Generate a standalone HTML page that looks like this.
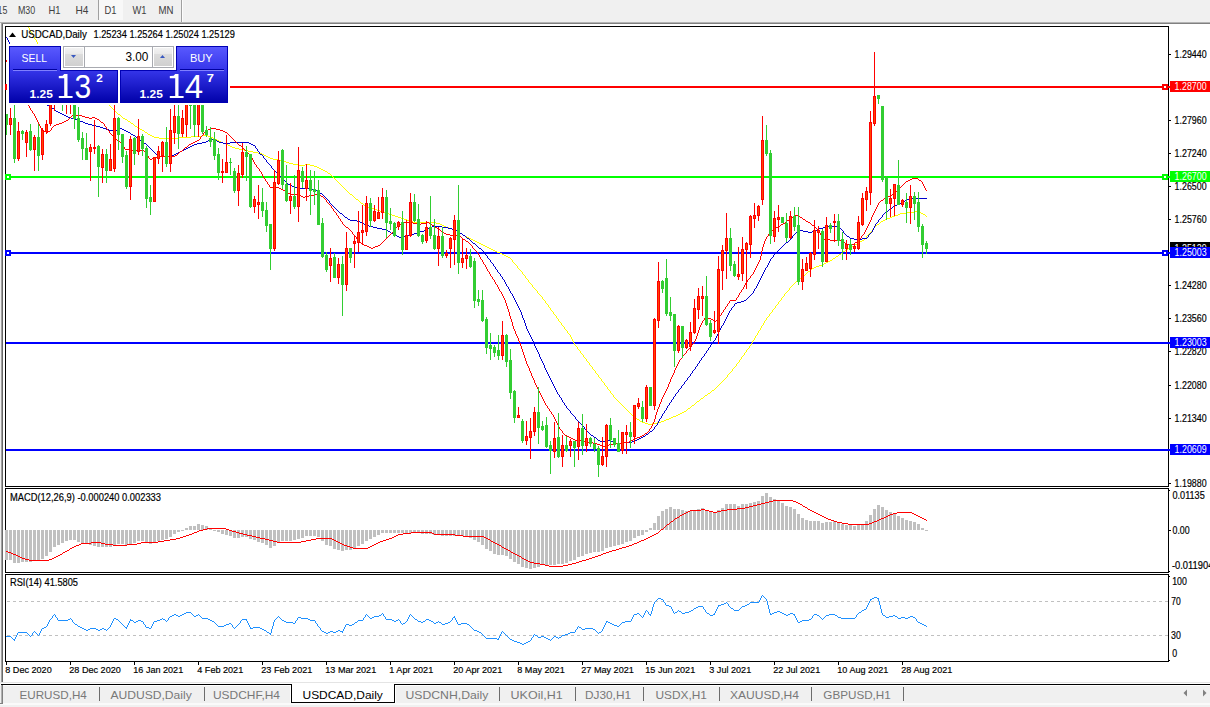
<!DOCTYPE html>
<html><head><meta charset="utf-8"><title>USDCAD,Daily</title>
<style>html,body{margin:0;padding:0;background:#fff}body{width:1210px;height:707px;overflow:hidden;position:relative;font-family:"Liberation Sans",sans-serif}svg{position:absolute;left:0;top:0;display:block}text{font-family:"Liberation Sans",sans-serif;white-space:pre}.b{stroke:#000;stroke-width:.18px}</style>
</head><body>
<svg width="1210" height="707" viewBox="0 0 1210 707">
<defs>
<linearGradient id="gb" gradientUnits="userSpaceOnUse" x1="0" y1="46" x2="0" y2="103"><stop offset="0" stop-color="#5a5aff"/><stop offset="0.42" stop-color="#3636ea"/><stop offset="1" stop-color="#0000a8"/></linearGradient>
<linearGradient id="gp" gradientUnits="userSpaceOnUse" x1="0" y1="46" x2="0" y2="103"><stop offset="0" stop-color="#5a5aff"/><stop offset="0.42" stop-color="#3636ea"/><stop offset="1" stop-color="#0000a8"/></linearGradient>
<linearGradient id="gs" x1="0" y1="0" x2="0" y2="1"><stop offset="0" stop-color="#f2f2f2"/><stop offset="0.36" stop-color="#e8e8e8"/><stop offset="0.36" stop-color="#dcdcdc"/><stop offset="1" stop-color="#d0d0d0"/></linearGradient>
<clipPath id="cm"><rect x="6" y="27" width="1162" height="459"/></clipPath>
</defs>
<g shape-rendering="crispEdges">
<rect x="0" y="0" width="1210" height="707" fill="#fff"/>
<rect x="0" y="0" width="1210" height="22" fill="#f0f0f0"/>
<rect x="0" y="22" width="1210" height="1" fill="#b4b4b4"/>
<rect x="0" y="23" width="1210" height="1" fill="#808080"/>
<rect x="99" y="0" width="24" height="20" fill="#f8f8f8"/>
<rect x="98" y="0" width="1" height="20" fill="#a0a0a0"/>
<rect x="181" y="0" width="1" height="22" fill="#a0a0a0"/>
<rect x="182" y="0" width="1" height="22" fill="#fcfcfc"/>
<rect x="0" y="23" width="1" height="661" fill="#f0f0f0"/>
<rect x="1" y="23" width="1" height="660" fill="#a0a0a0"/>
<rect x="2" y="24" width="1" height="659" fill="#696969"/>
<rect x="5" y="26" width="1164" height="1" fill="#000"/>
<rect x="5" y="486" width="1164" height="1" fill="#000"/>
<rect x="5" y="26" width="1" height="461" fill="#000"/>
<rect x="1168" y="26" width="1" height="461" fill="#000"/>
<rect x="5" y="488" width="1164" height="1" fill="#000"/>
<rect x="5" y="572" width="1164" height="1" fill="#000"/>
<rect x="5" y="488" width="1" height="85" fill="#000"/>
<rect x="1168" y="488" width="1" height="85" fill="#000"/>
<rect x="5" y="574" width="1164" height="1" fill="#000"/>
<rect x="5" y="661" width="1164" height="1" fill="#000"/>
<rect x="5" y="574" width="1" height="88" fill="#000"/>
<rect x="1168" y="574" width="1" height="88" fill="#000"/>
</g>
<g shape-rendering="crispEdges">
<rect x="5" y="86" width="1165" height="2" fill="#ff0000"/>
<rect x="5" y="176" width="1165" height="2" fill="#00ff00"/>
<rect x="5" y="252" width="1165" height="2" fill="#0000ff"/>
<rect x="6" y="342" width="1164" height="2" fill="#0000ff"/>
<rect x="6" y="449" width="1164" height="2" fill="#0000ff"/>
<rect x="5" y="84" width="6" height="6" fill="#ff0000"/>
<rect x="7" y="86" width="2" height="2" fill="#fff"/>
<rect x="1162" y="84" width="6" height="6" fill="#ff0000"/>
<rect x="1164" y="86" width="2" height="2" fill="#fff"/>
<rect x="5" y="174" width="6" height="6" fill="#00ff00"/>
<rect x="7" y="176" width="2" height="2" fill="#fff"/>
<rect x="1162" y="174" width="6" height="6" fill="#00ff00"/>
<rect x="1164" y="176" width="2" height="2" fill="#fff"/>
<rect x="5" y="250" width="6" height="6" fill="#0000ff"/>
<rect x="7" y="252" width="2" height="2" fill="#fff"/>
<rect x="1162" y="250" width="6" height="6" fill="#0000ff"/>
<rect x="1164" y="252" width="2" height="2" fill="#fff"/>
</g>
<g shape-rendering="crispEdges" clip-path="url(#cm)">
<rect x="6" y="60" width="1" height="2" fill="#ff0000"/>
<path d="M28 27h1v1h-1zM29 28h1v1h-1zM29 29h1v1h-1zM30 30h1v1h-1zM30 31h1v1h-1zM31 32h1v1h-1zM32 33h1v1h-1zM32 34h1v1h-1zM33 35h1v1h-1zM33 36h1v1h-1zM34 37h1v1h-1zM34 38h1v1h-1zM35 39h1v1h-1zM36 40h1v1h-1zM36 41h1v1h-1zM37 42h1v1h-1zM37 43h1v1h-1zM38 44h1v1h-1zM39 45h1v1h-1zM40 46h1v1h-1zM41 47h2v1h-2zM43 48h1v1h-1zM44 49h1v1h-1zM45 50h1v1h-1zM46 51h1v1h-1zM47 52h1v1h-1zM48 53h2v1h-2zM50 54h1v1h-1zM51 55h1v1h-1zM52 56h1v1h-1zM53 57h1v1h-1zM54 58h1v1h-1zM55 59h2v1h-2zM57 60h1v1h-1zM58 61h1v1h-1zM59 62h1v1h-1zM60 63h1v1h-1zM61 64h1v1h-1zM62 65h2v1h-2zM64 66h1v1h-1zM65 67h1v1h-1zM66 68h1v1h-1zM67 69h1v1h-1zM68 70h1v1h-1zM69 71h2v1h-2zM71 72h1v1h-1zM72 73h1v1h-1zM73 74h1v1h-1zM74 75h1v1h-1zM75 76h1v1h-1zM76 77h1v1h-1zM77 78h2v1h-2zM79 79h1v1h-1zM80 80h1v1h-1zM81 81h1v1h-1zM82 82h1v1h-1zM83 83h1v1h-1zM84 84h2v1h-2zM86 85h1v1h-1zM87 86h1v1h-1zM88 87h1v1h-1zM89 88h1v1h-1zM90 89h1v1h-1zM91 90h2v1h-2zM93 91h1v1h-1zM94 92h1v1h-1zM95 93h1v1h-1zM96 94h1v1h-1zM97 95h1v1h-1zM98 96h2v1h-2zM100 97h1v1h-1zM101 98h1v1h-1zM102 99h1v1h-1zM103 100h1v1h-1zM104 101h1v1h-1zM105 102h2v1h-2zM107 103h1v1h-1zM108 104h1v1h-1zM109 105h1v1h-1zM110 106h1v1h-1zM111 107h1v1h-1zM112 108h1v1h-1zM113 109h1v1h-1zM114 110h1v1h-1zM115 111h1v1h-1zM116 112h1v1h-1zM117 113h1v1h-1zM118 114h2v1h-2zM120 115h1v1h-1zM121 116h1v1h-1zM122 117h1v1h-1zM123 118h2v1h-2zM125 119h2v1h-2zM127 120h1v1h-1zM128 121h2v1h-2zM130 122h1v1h-1zM131 123h2v1h-2zM133 124h1v1h-1zM134 125h1v1h-1zM135 126h2v1h-2zM137 127h1v1h-1zM138 128h2v1h-2zM140 129h2v1h-2zM142 130h2v1h-2zM144 131h1v1h-1zM145 132h2v1h-2zM147 133h1v1h-1zM148 134h2v1h-2zM150 135h2v1h-2zM202 135h6v1h-6zM152 136h2v1h-2zM191 136h11v1h-11zM208 136h3v1h-3zM154 137h5v1h-5zM178 137h13v1h-13zM211 137h2v1h-2zM159 138h19v1h-19zM213 138h2v1h-2zM215 139h2v1h-2zM217 140h2v1h-2zM219 141h2v1h-2zM221 142h2v1h-2zM223 143h3v1h-3zM226 144h2v1h-2zM228 145h2v1h-2zM230 146h2v1h-2zM232 147h3v1h-3zM235 148h4v1h-4zM239 149h5v1h-5zM244 150h4v1h-4zM248 151h5v1h-5zM253 152h5v1h-5zM258 153h4v1h-4zM262 154h2v1h-2zM264 155h2v1h-2zM266 156h2v1h-2zM268 157h2v1h-2zM270 158h3v1h-3zM273 159h5v1h-5zM278 160h4v1h-4zM282 161h4v1h-4zM286 162h3v1h-3zM289 163h4v1h-4zM293 164h5v1h-5zM305 164h5v1h-5zM298 165h7v1h-7zM310 165h4v1h-4zM314 166h3v1h-3zM317 167h2v1h-2zM319 168h2v1h-2zM321 169h2v1h-2zM323 170h2v1h-2zM325 171h2v1h-2zM327 172h1v1h-1zM328 173h2v1h-2zM330 174h1v1h-1zM331 175h1v1h-1zM332 176h1v1h-1zM333 177h1v1h-1zM334 178h1v1h-1zM335 179h1v1h-1zM336 180h1v1h-1zM337 181h1v1h-1zM338 182h1v1h-1zM339 183h1v1h-1zM340 184h1v1h-1zM341 185h1v1h-1zM342 186h1v1h-1zM343 187h1v1h-1zM344 188h1v1h-1zM345 189h1v1h-1zM346 190h1v1h-1zM347 191h1v1h-1zM348 192h1v1h-1zM349 193h1v1h-1zM350 194h2v1h-2zM352 195h1v1h-1zM353 196h1v1h-1zM354 197h1v1h-1zM355 198h1v1h-1zM356 199h2v1h-2zM358 200h1v1h-1zM359 201h1v1h-1zM360 202h1v1h-1zM361 203h2v1h-2zM363 204h1v1h-1zM364 205h2v1h-2zM366 206h2v1h-2zM368 207h3v1h-3zM371 208h3v1h-3zM374 209h3v1h-3zM377 210h3v1h-3zM380 211h3v1h-3zM914 211h5v1h-5zM383 212h3v1h-3zM906 212h8v1h-8zM919 212h2v1h-2zM386 213h3v1h-3zM900 213h6v1h-6zM921 213h2v1h-2zM389 214h3v1h-3zM898 214h2v1h-2zM923 214h2v1h-2zM392 215h3v1h-3zM895 215h3v1h-3zM925 215h1v1h-1zM395 216h3v1h-3zM892 216h3v1h-3zM926 216h1v1h-1zM398 217h3v1h-3zM890 217h2v1h-2zM401 218h3v1h-3zM887 218h3v1h-3zM404 219h3v1h-3zM885 219h2v1h-2zM407 220h3v1h-3zM883 220h2v1h-2zM410 221h3v1h-3zM881 221h2v1h-2zM413 222h23v1h-23zM880 222h1v1h-1zM436 223h4v1h-4zM879 223h1v1h-1zM440 224h2v1h-2zM877 224h2v1h-2zM442 225h2v1h-2zM876 225h1v1h-1zM444 226h2v1h-2zM875 226h1v1h-1zM446 227h3v1h-3zM874 227h1v1h-1zM449 228h3v1h-3zM873 228h1v1h-1zM452 229h3v1h-3zM872 229h1v1h-1zM455 230h2v1h-2zM872 230h1v1h-1zM457 231h2v1h-2zM871 231h1v1h-1zM459 232h1v1h-1zM870 232h1v1h-1zM460 233h2v1h-2zM869 233h1v1h-1zM462 234h1v1h-1zM868 234h1v1h-1zM463 235h2v1h-2zM867 235h1v1h-1zM465 236h2v1h-2zM866 236h1v1h-1zM467 237h2v1h-2zM866 237h1v1h-1zM469 238h2v1h-2zM865 238h1v1h-1zM471 239h2v1h-2zM864 239h1v1h-1zM473 240h2v1h-2zM862 240h2v1h-2zM475 241h2v1h-2zM860 241h2v1h-2zM477 242h2v1h-2zM859 242h1v1h-1zM479 243h2v1h-2zM857 243h2v1h-2zM481 244h2v1h-2zM855 244h2v1h-2zM483 245h2v1h-2zM854 245h1v1h-1zM485 246h2v1h-2zM852 246h2v1h-2zM487 247h2v1h-2zM850 247h2v1h-2zM489 248h2v1h-2zM848 248h2v1h-2zM491 249h2v1h-2zM846 249h2v1h-2zM493 250h2v1h-2zM845 250h1v1h-1zM495 251h2v1h-2zM843 251h2v1h-2zM497 252h3v1h-3zM842 252h1v1h-1zM500 253h2v1h-2zM841 253h1v1h-1zM502 254h2v1h-2zM839 254h2v1h-2zM504 255h2v1h-2zM838 255h1v1h-1zM506 256h2v1h-2zM836 256h2v1h-2zM508 257h2v1h-2zM835 257h1v1h-1zM510 258h1v1h-1zM833 258h2v1h-2zM511 259h1v1h-1zM832 259h1v1h-1zM512 260h1v1h-1zM830 260h2v1h-2zM512 261h1v1h-1zM828 261h2v1h-2zM513 262h1v1h-1zM826 262h2v1h-2zM514 263h1v1h-1zM824 263h2v1h-2zM515 264h1v1h-1zM822 264h2v1h-2zM516 265h1v1h-1zM819 265h3v1h-3zM517 266h1v1h-1zM816 266h3v1h-3zM517 267h1v1h-1zM814 267h2v1h-2zM518 268h1v1h-1zM812 268h2v1h-2zM519 269h1v1h-1zM811 269h1v1h-1zM520 270h1v1h-1zM810 270h1v1h-1zM521 271h1v1h-1zM808 271h2v1h-2zM522 272h1v1h-1zM807 272h1v1h-1zM522 273h1v1h-1zM806 273h1v1h-1zM523 274h1v1h-1zM805 274h1v1h-1zM524 275h1v1h-1zM803 275h2v1h-2zM525 276h1v1h-1zM802 276h1v1h-1zM525 277h1v1h-1zM801 277h1v1h-1zM526 278h1v1h-1zM800 278h1v1h-1zM527 279h1v1h-1zM799 279h1v1h-1zM528 280h1v1h-1zM798 280h1v1h-1zM528 281h1v1h-1zM796 281h2v1h-2zM529 282h1v1h-1zM795 282h1v1h-1zM530 283h1v1h-1zM794 283h1v1h-1zM531 284h1v1h-1zM793 284h1v1h-1zM532 285h1v1h-1zM792 285h1v1h-1zM532 286h1v1h-1zM791 286h1v1h-1zM533 287h1v1h-1zM790 287h1v1h-1zM534 288h1v1h-1zM789 288h1v1h-1zM535 289h1v1h-1zM789 289h1v1h-1zM536 290h1v1h-1zM788 290h1v1h-1zM537 291h1v1h-1zM787 291h1v1h-1zM537 292h1v1h-1zM786 292h1v1h-1zM538 293h1v1h-1zM785 293h1v1h-1zM539 294h1v1h-1zM784 294h1v1h-1zM540 295h1v1h-1zM784 295h1v1h-1zM541 296h1v1h-1zM783 296h1v1h-1zM542 297h1v1h-1zM782 297h1v1h-1zM542 298h1v1h-1zM781 298h1v1h-1zM543 299h1v1h-1zM781 299h1v1h-1zM544 300h1v1h-1zM780 300h1v1h-1zM545 301h1v1h-1zM779 301h1v1h-1zM545 302h1v1h-1zM778 302h1v1h-1zM546 303h1v1h-1zM778 303h1v1h-1zM547 304h1v1h-1zM777 304h1v1h-1zM548 305h1v1h-1zM776 305h1v1h-1zM548 306h1v1h-1zM775 306h1v1h-1zM549 307h1v1h-1zM775 307h1v1h-1zM550 308h1v1h-1zM774 308h1v1h-1zM550 309h1v1h-1zM773 309h1v1h-1zM551 310h1v1h-1zM772 310h1v1h-1zM552 311h1v1h-1zM772 311h1v1h-1zM553 312h1v1h-1zM771 312h1v1h-1zM553 313h1v1h-1zM770 313h1v1h-1zM554 314h1v1h-1zM769 314h1v1h-1zM555 315h1v1h-1zM769 315h1v1h-1zM556 316h1v1h-1zM768 316h1v1h-1zM556 317h1v1h-1zM767 317h1v1h-1zM557 318h1v1h-1zM766 318h1v1h-1zM558 319h1v1h-1zM766 319h1v1h-1zM558 320h1v1h-1zM765 320h1v1h-1zM559 321h1v1h-1zM764 321h1v1h-1zM560 322h1v1h-1zM764 322h1v1h-1zM561 323h1v1h-1zM763 323h1v1h-1zM561 324h1v1h-1zM763 324h1v1h-1zM562 325h1v1h-1zM762 325h1v1h-1zM563 326h1v1h-1zM761 326h1v1h-1zM564 327h1v1h-1zM761 327h1v1h-1zM564 328h1v1h-1zM760 328h1v1h-1zM565 329h1v1h-1zM760 329h1v1h-1zM566 330h1v1h-1zM759 330h1v1h-1zM567 331h1v1h-1zM758 331h1v1h-1zM567 332h1v1h-1zM758 332h1v1h-1zM568 333h1v1h-1zM757 333h1v1h-1zM569 334h1v1h-1zM757 334h1v1h-1zM570 335h1v1h-1zM756 335h1v1h-1zM570 336h1v1h-1zM755 336h1v1h-1zM571 337h1v1h-1zM755 337h1v1h-1zM571 338h1v1h-1zM754 338h1v1h-1zM572 339h1v1h-1zM754 339h1v1h-1zM572 340h1v1h-1zM753 340h1v1h-1zM573 341h1v1h-1zM752 341h1v1h-1zM573 342h1v1h-1zM752 342h1v1h-1zM574 343h1v1h-1zM751 343h1v1h-1zM574 344h1v1h-1zM751 344h1v1h-1zM575 345h1v1h-1zM750 345h1v1h-1zM576 346h1v1h-1zM749 346h1v1h-1zM577 347h1v1h-1zM749 347h1v1h-1zM577 348h1v1h-1zM748 348h1v1h-1zM578 349h1v1h-1zM747 349h1v1h-1zM579 350h1v1h-1zM746 350h1v1h-1zM580 351h1v1h-1zM746 351h1v1h-1zM580 352h1v1h-1zM745 352h1v1h-1zM581 353h1v1h-1zM744 353h1v1h-1zM582 354h1v1h-1zM744 354h1v1h-1zM583 355h1v1h-1zM743 355h1v1h-1zM583 356h1v1h-1zM742 356h1v1h-1zM584 357h1v1h-1zM741 357h1v1h-1zM585 358h1v1h-1zM741 358h1v1h-1zM586 359h1v1h-1zM740 359h1v1h-1zM586 360h1v1h-1zM739 360h1v1h-1zM587 361h1v1h-1zM739 361h1v1h-1zM588 362h1v1h-1zM738 362h1v1h-1zM589 363h1v1h-1zM737 363h1v1h-1zM589 364h1v1h-1zM736 364h1v1h-1zM590 365h1v1h-1zM736 365h1v1h-1zM591 366h1v1h-1zM735 366h1v1h-1zM592 367h1v1h-1zM734 367h1v1h-1zM592 368h1v1h-1zM733 368h1v1h-1zM593 369h1v1h-1zM732 369h1v1h-1zM594 370h1v1h-1zM732 370h1v1h-1zM595 371h1v1h-1zM731 371h1v1h-1zM595 372h1v1h-1zM730 372h1v1h-1zM596 373h1v1h-1zM729 373h1v1h-1zM597 374h1v1h-1zM728 374h1v1h-1zM598 375h1v1h-1zM727 375h1v1h-1zM598 376h1v1h-1zM727 376h1v1h-1zM599 377h1v1h-1zM726 377h1v1h-1zM600 378h1v1h-1zM725 378h1v1h-1zM601 379h1v1h-1zM724 379h1v1h-1zM601 380h1v1h-1zM723 380h1v1h-1zM602 381h1v1h-1zM722 381h1v1h-1zM603 382h1v1h-1zM721 382h1v1h-1zM604 383h1v1h-1zM720 383h1v1h-1zM604 384h1v1h-1zM719 384h1v1h-1zM605 385h1v1h-1zM718 385h1v1h-1zM606 386h1v1h-1zM717 386h1v1h-1zM607 387h1v1h-1zM716 387h1v1h-1zM607 388h1v1h-1zM715 388h1v1h-1zM608 389h1v1h-1zM714 389h1v1h-1zM609 390h1v1h-1zM712 390h2v1h-2zM610 391h1v1h-1zM711 391h1v1h-1zM610 392h1v1h-1zM710 392h1v1h-1zM611 393h1v1h-1zM708 393h2v1h-2zM612 394h1v1h-1zM707 394h1v1h-1zM613 395h1v1h-1zM705 395h2v1h-2zM613 396h1v1h-1zM704 396h1v1h-1zM614 397h1v1h-1zM703 397h1v1h-1zM615 398h1v1h-1zM701 398h2v1h-2zM616 399h1v1h-1zM700 399h1v1h-1zM617 400h1v1h-1zM699 400h1v1h-1zM618 401h1v1h-1zM697 401h2v1h-2zM619 402h1v1h-1zM696 402h1v1h-1zM620 403h1v1h-1zM695 403h1v1h-1zM621 404h1v1h-1zM694 404h1v1h-1zM622 405h1v1h-1zM692 405h2v1h-2zM623 406h1v1h-1zM691 406h1v1h-1zM624 407h1v1h-1zM690 407h1v1h-1zM625 408h1v1h-1zM688 408h2v1h-2zM626 409h1v1h-1zM687 409h1v1h-1zM627 410h1v1h-1zM686 410h1v1h-1zM628 411h1v1h-1zM684 411h2v1h-2zM629 412h1v1h-1zM682 412h2v1h-2zM630 413h1v1h-1zM680 413h2v1h-2zM631 414h1v1h-1zM678 414h2v1h-2zM632 415h1v1h-1zM676 415h2v1h-2zM633 416h2v1h-2zM673 416h3v1h-3zM635 417h1v1h-1zM671 417h2v1h-2zM636 418h1v1h-1zM669 418h2v1h-2zM637 419h2v1h-2zM666 419h3v1h-3zM639 420h1v1h-1zM664 420h2v1h-2zM640 421h2v1h-2zM661 421h3v1h-3zM642 422h3v1h-3zM657 422h4v1h-4zM645 423h3v1h-3zM652 423h5v1h-5zM648 424h4v1h-4z" fill="#ffff00"/>
<path d="M6 37h1v1h-1zM7 38h1v1h-1zM7 39h1v1h-1zM8 40h1v1h-1zM8 41h1v1h-1zM9 42h1v1h-1zM9 43h1v1h-1zM10 44h1v1h-1zM11 45h1v1h-1zM11 46h1v1h-1zM12 47h1v1h-1zM12 48h1v1h-1zM13 49h1v1h-1zM14 50h1v1h-1zM14 51h1v1h-1zM15 52h1v1h-1zM15 53h1v1h-1zM16 54h1v1h-1zM17 55h1v1h-1zM17 56h1v1h-1zM18 57h1v1h-1zM18 58h1v1h-1zM19 59h1v1h-1zM20 60h1v1h-1zM20 61h1v1h-1zM21 62h1v1h-1zM22 63h1v1h-1zM22 64h1v1h-1zM23 65h1v1h-1zM23 66h1v1h-1zM24 67h1v1h-1zM25 68h1v1h-1zM25 69h1v1h-1zM26 70h1v1h-1zM26 71h1v1h-1zM27 72h1v1h-1zM28 73h1v1h-1zM28 74h1v1h-1zM29 75h1v1h-1zM29 76h1v1h-1zM30 77h1v1h-1zM31 78h1v1h-1zM31 79h1v1h-1zM32 80h1v1h-1zM32 81h1v1h-1zM33 82h1v1h-1zM34 83h1v1h-1zM34 84h1v1h-1zM35 85h1v1h-1zM35 86h1v1h-1zM36 87h1v1h-1zM37 88h1v1h-1zM37 89h1v1h-1zM38 90h1v1h-1zM39 91h1v1h-1zM39 92h1v1h-1zM40 93h1v1h-1zM40 94h1v1h-1zM41 95h1v1h-1zM42 96h1v1h-1zM42 97h1v1h-1zM43 98h1v1h-1zM43 99h1v1h-1zM44 100h1v1h-1zM45 101h1v1h-1zM45 102h1v1h-1zM46 103h1v1h-1zM46 104h1v1h-1zM47 105h2v1h-2zM49 106h2v1h-2zM51 107h1v1h-1zM52 108h2v1h-2zM54 109h1v1h-1zM55 110h1v1h-1zM56 111h2v1h-2zM58 112h2v1h-2zM60 113h2v1h-2zM62 114h2v1h-2zM64 115h2v1h-2zM66 116h2v1h-2zM68 117h3v1h-3zM71 118h3v1h-3zM74 119h3v1h-3zM77 120h3v1h-3zM80 121h3v1h-3zM83 122h2v1h-2zM85 123h3v1h-3zM88 124h4v1h-4zM92 125h4v1h-4zM96 126h4v1h-4zM100 127h3v1h-3zM103 128h3v1h-3zM119 128h3v1h-3zM106 129h3v1h-3zM117 129h2v1h-2zM122 129h2v1h-2zM109 130h8v1h-8zM124 130h2v1h-2zM126 131h2v1h-2zM128 132h2v1h-2zM130 133h1v1h-1zM131 134h2v1h-2zM133 135h2v1h-2zM135 136h1v1h-1zM136 137h2v1h-2zM138 138h1v1h-1zM139 139h1v1h-1zM212 139h3v1h-3zM140 140h2v1h-2zM208 140h4v1h-4zM215 140h2v1h-2zM142 141h1v1h-1zM206 141h2v1h-2zM217 141h2v1h-2zM143 142h1v1h-1zM202 142h4v1h-4zM219 142h4v1h-4zM230 142h19v1h-19zM144 143h2v1h-2zM197 143h5v1h-5zM223 143h7v1h-7zM249 143h2v1h-2zM146 144h1v1h-1zM194 144h3v1h-3zM251 144h2v1h-2zM147 145h1v1h-1zM192 145h2v1h-2zM253 145h2v1h-2zM148 146h1v1h-1zM190 146h2v1h-2zM255 146h1v1h-1zM149 147h1v1h-1zM188 147h2v1h-2zM255 147h1v1h-1zM150 148h1v1h-1zM186 148h2v1h-2zM256 148h1v1h-1zM151 149h1v1h-1zM184 149h2v1h-2zM257 149h1v1h-1zM152 150h1v1h-1zM182 150h2v1h-2zM257 150h1v1h-1zM153 151h1v1h-1zM180 151h2v1h-2zM258 151h1v1h-1zM154 152h1v1h-1zM178 152h2v1h-2zM259 152h1v1h-1zM155 153h1v1h-1zM176 153h2v1h-2zM259 153h1v1h-1zM156 154h2v1h-2zM174 154h2v1h-2zM260 154h2v1h-2zM158 155h2v1h-2zM172 155h2v1h-2zM262 155h1v1h-1zM160 156h12v1h-12zM263 156h1v1h-1zM263 157h1v1h-1zM264 158h1v1h-1zM265 159h1v1h-1zM266 160h1v1h-1zM266 161h1v1h-1zM267 162h1v1h-1zM268 163h1v1h-1zM269 164h1v1h-1zM270 165h1v1h-1zM271 166h1v1h-1zM271 167h1v1h-1zM272 168h1v1h-1zM273 169h1v1h-1zM274 170h1v1h-1zM275 171h1v1h-1zM276 172h1v1h-1zM277 173h1v1h-1zM278 174h1v1h-1zM279 175h1v1h-1zM280 176h1v1h-1zM281 177h1v1h-1zM282 178h1v1h-1zM283 179h1v1h-1zM284 180h1v1h-1zM285 181h1v1h-1zM286 182h1v1h-1zM287 183h1v1h-1zM288 184h2v1h-2zM290 185h2v1h-2zM292 186h2v1h-2zM294 187h5v1h-5zM299 188h13v1h-13zM312 189h3v1h-3zM315 190h2v1h-2zM317 191h2v1h-2zM319 192h1v1h-1zM320 193h2v1h-2zM322 194h1v1h-1zM323 195h1v1h-1zM324 196h1v1h-1zM325 197h1v1h-1zM326 198h1v1h-1zM909 198h18v1h-18zM327 199h1v1h-1zM907 199h2v1h-2zM328 200h1v1h-1zM905 200h2v1h-2zM329 201h1v1h-1zM903 201h2v1h-2zM329 202h1v1h-1zM901 202h2v1h-2zM330 203h1v1h-1zM899 203h2v1h-2zM331 204h1v1h-1zM897 204h2v1h-2zM332 205h1v1h-1zM895 205h2v1h-2zM333 206h1v1h-1zM893 206h2v1h-2zM334 207h1v1h-1zM892 207h1v1h-1zM335 208h1v1h-1zM890 208h2v1h-2zM336 209h1v1h-1zM889 209h1v1h-1zM337 210h1v1h-1zM888 210h1v1h-1zM338 211h1v1h-1zM886 211h2v1h-2zM339 212h1v1h-1zM885 212h1v1h-1zM340 213h2v1h-2zM884 213h1v1h-1zM342 214h1v1h-1zM883 214h1v1h-1zM343 215h1v1h-1zM882 215h1v1h-1zM344 216h1v1h-1zM882 216h1v1h-1zM345 217h2v1h-2zM881 217h1v1h-1zM347 218h1v1h-1zM880 218h1v1h-1zM348 219h2v1h-2zM879 219h1v1h-1zM350 220h7v1h-7zM878 220h1v1h-1zM357 221h3v1h-3zM878 221h1v1h-1zM360 222h2v1h-2zM877 222h1v1h-1zM362 223h2v1h-2zM876 223h1v1h-1zM364 224h2v1h-2zM875 224h1v1h-1zM366 225h3v1h-3zM875 225h1v1h-1zM369 226h4v1h-4zM432 226h10v1h-10zM828 226h9v1h-9zM874 226h1v1h-1zM373 227h4v1h-4zM430 227h2v1h-2zM442 227h6v1h-6zM823 227h5v1h-5zM837 227h2v1h-2zM874 227h1v1h-1zM377 228h5v1h-5zM428 228h2v1h-2zM448 228h4v1h-4zM819 228h4v1h-4zM839 228h2v1h-2zM873 228h1v1h-1zM382 229h4v1h-4zM426 229h2v1h-2zM452 229h3v1h-3zM817 229h2v1h-2zM841 229h1v1h-1zM873 229h1v1h-1zM386 230h2v1h-2zM424 230h2v1h-2zM455 230h2v1h-2zM800 230h3v1h-3zM814 230h3v1h-3zM842 230h1v1h-1zM872 230h1v1h-1zM388 231h2v1h-2zM420 231h4v1h-4zM457 231h2v1h-2zM798 231h2v1h-2zM803 231h5v1h-5zM812 231h2v1h-2zM843 231h1v1h-1zM872 231h1v1h-1zM390 232h1v1h-1zM417 232h3v1h-3zM459 232h1v1h-1zM796 232h2v1h-2zM808 232h4v1h-4zM843 232h1v1h-1zM871 232h1v1h-1zM391 233h2v1h-2zM414 233h3v1h-3zM460 233h2v1h-2zM795 233h1v1h-1zM844 233h1v1h-1zM870 233h1v1h-1zM393 234h2v1h-2zM411 234h3v1h-3zM462 234h1v1h-1zM794 234h1v1h-1zM845 234h1v1h-1zM869 234h1v1h-1zM395 235h2v1h-2zM408 235h3v1h-3zM463 235h2v1h-2zM793 235h1v1h-1zM846 235h1v1h-1zM868 235h1v1h-1zM397 236h2v1h-2zM404 236h4v1h-4zM465 236h1v1h-1zM792 236h1v1h-1zM847 236h2v1h-2zM868 236h1v1h-1zM399 237h5v1h-5zM466 237h1v1h-1zM792 237h1v1h-1zM849 237h1v1h-1zM867 237h1v1h-1zM467 238h2v1h-2zM791 238h1v1h-1zM850 238h4v1h-4zM862 238h5v1h-5zM469 239h1v1h-1zM790 239h1v1h-1zM854 239h8v1h-8zM470 240h1v1h-1zM789 240h1v1h-1zM471 241h1v1h-1zM788 241h1v1h-1zM472 242h1v1h-1zM786 242h2v1h-2zM473 243h2v1h-2zM785 243h1v1h-1zM475 244h1v1h-1zM784 244h1v1h-1zM476 245h1v1h-1zM783 245h1v1h-1zM477 246h1v1h-1zM782 246h1v1h-1zM478 247h1v1h-1zM781 247h1v1h-1zM479 248h2v1h-2zM780 248h1v1h-1zM481 249h1v1h-1zM779 249h1v1h-1zM482 250h1v1h-1zM778 250h1v1h-1zM483 251h1v1h-1zM777 251h1v1h-1zM484 252h1v1h-1zM776 252h1v1h-1zM484 253h1v1h-1zM775 253h1v1h-1zM485 254h1v1h-1zM774 254h1v1h-1zM486 255h1v1h-1zM773 255h1v1h-1zM487 256h1v1h-1zM773 256h1v1h-1zM487 257h1v1h-1zM772 257h1v1h-1zM488 258h1v1h-1zM771 258h1v1h-1zM489 259h1v1h-1zM770 259h1v1h-1zM490 260h1v1h-1zM770 260h1v1h-1zM490 261h1v1h-1zM769 261h1v1h-1zM491 262h1v1h-1zM769 262h1v1h-1zM492 263h1v1h-1zM768 263h1v1h-1zM493 264h1v1h-1zM768 264h1v1h-1zM493 265h1v1h-1zM767 265h1v1h-1zM494 266h1v1h-1zM767 266h1v1h-1zM495 267h1v1h-1zM766 267h1v1h-1zM495 268h1v1h-1zM765 268h1v1h-1zM496 269h1v1h-1zM765 269h1v1h-1zM497 270h1v1h-1zM764 270h1v1h-1zM497 271h1v1h-1zM764 271h1v1h-1zM498 272h1v1h-1zM763 272h1v1h-1zM499 273h1v1h-1zM763 273h1v1h-1zM500 274h1v1h-1zM762 274h1v1h-1zM500 275h1v1h-1zM762 275h1v1h-1zM501 276h1v1h-1zM761 276h1v1h-1zM502 277h1v1h-1zM761 277h1v1h-1zM502 278h1v1h-1zM760 278h1v1h-1zM503 279h1v1h-1zM760 279h1v1h-1zM504 280h1v1h-1zM759 280h1v1h-1zM504 281h1v1h-1zM759 281h1v1h-1zM505 282h1v1h-1zM758 282h1v1h-1zM505 283h1v1h-1zM758 283h1v1h-1zM506 284h1v1h-1zM757 284h1v1h-1zM506 285h1v1h-1zM757 285h1v1h-1zM507 286h1v1h-1zM756 286h1v1h-1zM508 287h1v1h-1zM756 287h1v1h-1zM508 288h1v1h-1zM755 288h1v1h-1zM509 289h1v1h-1zM754 289h1v1h-1zM509 290h1v1h-1zM754 290h1v1h-1zM510 291h1v1h-1zM753 291h1v1h-1zM510 292h1v1h-1zM753 292h1v1h-1zM511 293h1v1h-1zM752 293h1v1h-1zM512 294h1v1h-1zM751 294h1v1h-1zM512 295h1v1h-1zM750 295h1v1h-1zM513 296h1v1h-1zM749 296h1v1h-1zM513 297h1v1h-1zM748 297h1v1h-1zM514 298h1v1h-1zM747 298h1v1h-1zM514 299h1v1h-1zM746 299h1v1h-1zM515 300h1v1h-1zM744 300h2v1h-2zM515 301h1v1h-1zM741 301h3v1h-3zM516 302h1v1h-1zM737 302h4v1h-4zM516 303h1v1h-1zM735 303h2v1h-2zM517 304h1v1h-1zM734 304h1v1h-1zM517 305h1v1h-1zM734 305h1v1h-1zM518 306h1v1h-1zM733 306h1v1h-1zM518 307h1v1h-1zM732 307h1v1h-1zM519 308h1v1h-1zM731 308h1v1h-1zM519 309h1v1h-1zM731 309h1v1h-1zM520 310h1v1h-1zM730 310h1v1h-1zM520 311h1v1h-1zM729 311h1v1h-1zM521 312h1v1h-1zM729 312h1v1h-1zM521 313h1v1h-1zM728 313h1v1h-1zM521 314h1v1h-1zM728 314h1v1h-1zM522 315h1v1h-1zM727 315h1v1h-1zM522 316h1v1h-1zM727 316h1v1h-1zM522 317h1v1h-1zM726 317h1v1h-1zM523 318h1v1h-1zM726 318h1v1h-1zM523 319h1v1h-1zM725 319h1v1h-1zM524 320h1v1h-1zM725 320h1v1h-1zM524 321h1v1h-1zM724 321h1v1h-1zM524 322h1v1h-1zM724 322h1v1h-1zM525 323h1v1h-1zM723 323h1v1h-1zM525 324h1v1h-1zM723 324h1v1h-1zM525 325h1v1h-1zM722 325h1v1h-1zM526 326h1v1h-1zM721 326h1v1h-1zM526 327h1v1h-1zM721 327h1v1h-1zM526 328h1v1h-1zM720 328h1v1h-1zM527 329h1v1h-1zM720 329h1v1h-1zM527 330h1v1h-1zM719 330h1v1h-1zM528 331h1v1h-1zM719 331h1v1h-1zM528 332h1v1h-1zM718 332h1v1h-1zM529 333h1v1h-1zM718 333h1v1h-1zM529 334h1v1h-1zM717 334h1v1h-1zM530 335h1v1h-1zM717 335h1v1h-1zM530 336h1v1h-1zM716 336h1v1h-1zM531 337h1v1h-1zM716 337h1v1h-1zM531 338h1v1h-1zM715 338h1v1h-1zM532 339h1v1h-1zM715 339h1v1h-1zM532 340h1v1h-1zM714 340h1v1h-1zM533 341h1v1h-1zM713 341h1v1h-1zM533 342h1v1h-1zM713 342h1v1h-1zM534 343h1v1h-1zM712 343h1v1h-1zM534 344h1v1h-1zM711 344h1v1h-1zM534 345h1v1h-1zM710 345h1v1h-1zM535 346h1v1h-1zM710 346h1v1h-1zM535 347h1v1h-1zM709 347h1v1h-1zM536 348h1v1h-1zM708 348h1v1h-1zM536 349h1v1h-1zM708 349h1v1h-1zM537 350h1v1h-1zM707 350h1v1h-1zM537 351h1v1h-1zM706 351h1v1h-1zM538 352h1v1h-1zM706 352h1v1h-1zM538 353h1v1h-1zM705 353h1v1h-1zM539 354h1v1h-1zM704 354h1v1h-1zM539 355h1v1h-1zM704 355h1v1h-1zM539 356h1v1h-1zM703 356h1v1h-1zM540 357h1v1h-1zM702 357h1v1h-1zM540 358h1v1h-1zM701 358h1v1h-1zM541 359h1v1h-1zM701 359h1v1h-1zM541 360h1v1h-1zM700 360h1v1h-1zM542 361h1v1h-1zM699 361h1v1h-1zM542 362h1v1h-1zM699 362h1v1h-1zM543 363h1v1h-1zM698 363h1v1h-1zM543 364h1v1h-1zM697 364h1v1h-1zM544 365h1v1h-1zM697 365h1v1h-1zM544 366h1v1h-1zM696 366h1v1h-1zM544 367h1v1h-1zM695 367h1v1h-1zM545 368h1v1h-1zM695 368h1v1h-1zM545 369h1v1h-1zM694 369h1v1h-1zM546 370h1v1h-1zM693 370h1v1h-1zM546 371h1v1h-1zM692 371h1v1h-1zM547 372h1v1h-1zM692 372h1v1h-1zM547 373h1v1h-1zM691 373h1v1h-1zM548 374h1v1h-1zM690 374h1v1h-1zM548 375h1v1h-1zM690 375h1v1h-1zM549 376h1v1h-1zM689 376h1v1h-1zM549 377h1v1h-1zM688 377h1v1h-1zM550 378h1v1h-1zM687 378h1v1h-1zM550 379h1v1h-1zM687 379h1v1h-1zM551 380h1v1h-1zM686 380h1v1h-1zM551 381h1v1h-1zM685 381h1v1h-1zM552 382h1v1h-1zM684 382h1v1h-1zM552 383h1v1h-1zM684 383h1v1h-1zM553 384h1v1h-1zM683 384h1v1h-1zM553 385h1v1h-1zM682 385h1v1h-1zM554 386h1v1h-1zM681 386h1v1h-1zM554 387h1v1h-1zM681 387h1v1h-1zM555 388h1v1h-1zM680 388h1v1h-1zM555 389h1v1h-1zM679 389h1v1h-1zM556 390h1v1h-1zM678 390h1v1h-1zM556 391h1v1h-1zM678 391h1v1h-1zM557 392h1v1h-1zM677 392h1v1h-1zM557 393h1v1h-1zM676 393h1v1h-1zM558 394h1v1h-1zM675 394h1v1h-1zM559 395h1v1h-1zM675 395h1v1h-1zM559 396h1v1h-1zM674 396h1v1h-1zM560 397h1v1h-1zM673 397h1v1h-1zM561 398h1v1h-1zM673 398h1v1h-1zM561 399h1v1h-1zM672 399h1v1h-1zM562 400h1v1h-1zM671 400h1v1h-1zM562 401h1v1h-1zM671 401h1v1h-1zM563 402h1v1h-1zM670 402h1v1h-1zM564 403h1v1h-1zM669 403h1v1h-1zM564 404h1v1h-1zM669 404h1v1h-1zM565 405h1v1h-1zM668 405h1v1h-1zM566 406h1v1h-1zM667 406h1v1h-1zM566 407h1v1h-1zM667 407h1v1h-1zM567 408h1v1h-1zM666 408h1v1h-1zM568 409h1v1h-1zM666 409h1v1h-1zM569 410h1v1h-1zM665 410h1v1h-1zM570 411h1v1h-1zM664 411h1v1h-1zM570 412h1v1h-1zM664 412h1v1h-1zM571 413h1v1h-1zM663 413h1v1h-1zM572 414h1v1h-1zM662 414h1v1h-1zM573 415h1v1h-1zM662 415h1v1h-1zM574 416h1v1h-1zM661 416h1v1h-1zM575 417h1v1h-1zM661 417h1v1h-1zM575 418h1v1h-1zM660 418h1v1h-1zM576 419h1v1h-1zM659 419h1v1h-1zM577 420h1v1h-1zM659 420h1v1h-1zM578 421h1v1h-1zM658 421h1v1h-1zM579 422h1v1h-1zM658 422h1v1h-1zM580 423h1v1h-1zM657 423h1v1h-1zM581 424h1v1h-1zM657 424h1v1h-1zM582 425h1v1h-1zM656 425h1v1h-1zM583 426h1v1h-1zM655 426h1v1h-1zM584 427h1v1h-1zM654 427h1v1h-1zM584 428h1v1h-1zM654 428h1v1h-1zM585 429h1v1h-1zM653 429h1v1h-1zM586 430h1v1h-1zM652 430h1v1h-1zM587 431h1v1h-1zM650 431h2v1h-2zM588 432h1v1h-1zM649 432h1v1h-1zM589 433h1v1h-1zM648 433h1v1h-1zM590 434h1v1h-1zM646 434h2v1h-2zM591 435h2v1h-2zM645 435h1v1h-1zM593 436h1v1h-1zM643 436h2v1h-2zM594 437h2v1h-2zM641 437h2v1h-2zM596 438h1v1h-1zM639 438h2v1h-2zM597 439h1v1h-1zM637 439h2v1h-2zM598 440h2v1h-2zM608 440h3v1h-3zM634 440h3v1h-3zM600 441h8v1h-8zM611 441h2v1h-2zM632 441h2v1h-2zM613 442h2v1h-2zM623 442h9v1h-9zM615 443h8v1h-8z" fill="#0000cd"/>
<path d="M28 105h1v1h-1zM29 106h1v1h-1zM29 107h1v1h-1zM30 108h1v1h-1zM30 109h1v1h-1zM31 110h1v1h-1zM32 111h1v1h-1zM32 112h1v1h-1zM33 113h1v1h-1zM34 114h1v1h-1zM34 115h1v1h-1zM72 115h10v1h-10zM35 116h1v1h-1zM71 116h1v1h-1zM82 116h3v1h-3zM35 117h1v1h-1zM70 117h1v1h-1zM85 117h4v1h-4zM92 117h3v1h-3zM36 118h1v1h-1zM69 118h1v1h-1zM89 118h3v1h-3zM95 118h2v1h-2zM36 119h1v1h-1zM68 119h1v1h-1zM97 119h2v1h-2zM37 120h1v1h-1zM66 120h2v1h-2zM99 120h1v1h-1zM37 121h1v1h-1zM64 121h2v1h-2zM100 121h1v1h-1zM38 122h1v1h-1zM62 122h2v1h-2zM101 122h2v1h-2zM38 123h1v1h-1zM59 123h3v1h-3zM103 123h1v1h-1zM39 124h1v1h-1zM56 124h3v1h-3zM104 124h1v1h-1zM39 125h1v1h-1zM54 125h2v1h-2zM104 125h1v1h-1zM40 126h1v1h-1zM53 126h1v1h-1zM105 126h1v1h-1zM40 127h1v1h-1zM52 127h1v1h-1zM106 127h1v1h-1zM41 128h1v1h-1zM51 128h1v1h-1zM106 128h1v1h-1zM211 128h5v1h-5zM41 129h1v1h-1zM51 129h1v1h-1zM107 129h1v1h-1zM208 129h3v1h-3zM216 129h4v1h-4zM42 130h2v1h-2zM50 130h1v1h-1zM108 130h1v1h-1zM206 130h2v1h-2zM220 130h3v1h-3zM44 131h2v1h-2zM48 131h2v1h-2zM109 131h1v1h-1zM205 131h1v1h-1zM223 131h2v1h-2zM46 132h2v1h-2zM109 132h1v1h-1zM204 132h1v1h-1zM225 132h2v1h-2zM110 133h1v1h-1zM203 133h1v1h-1zM227 133h1v1h-1zM111 134h1v1h-1zM203 134h1v1h-1zM228 134h1v1h-1zM112 135h1v1h-1zM202 135h1v1h-1zM229 135h1v1h-1zM113 136h1v1h-1zM201 136h1v1h-1zM230 136h1v1h-1zM114 137h1v1h-1zM200 137h1v1h-1zM231 137h1v1h-1zM115 138h1v1h-1zM200 138h1v1h-1zM232 138h1v1h-1zM116 139h1v1h-1zM199 139h1v1h-1zM233 139h1v1h-1zM117 140h2v1h-2zM197 140h2v1h-2zM234 140h1v1h-1zM119 141h1v1h-1zM195 141h2v1h-2zM235 141h1v1h-1zM120 142h1v1h-1zM193 142h2v1h-2zM236 142h1v1h-1zM121 143h1v1h-1zM191 143h2v1h-2zM237 143h1v1h-1zM121 144h1v1h-1zM189 144h2v1h-2zM238 144h1v1h-1zM122 145h1v1h-1zM188 145h1v1h-1zM239 145h2v1h-2zM123 146h1v1h-1zM187 146h1v1h-1zM241 146h1v1h-1zM124 147h1v1h-1zM185 147h2v1h-2zM242 147h1v1h-1zM124 148h1v1h-1zM184 148h1v1h-1zM243 148h1v1h-1zM125 149h5v1h-5zM183 149h1v1h-1zM244 149h1v1h-1zM130 150h14v1h-14zM182 150h1v1h-1zM245 150h1v1h-1zM144 151h1v1h-1zM180 151h2v1h-2zM246 151h1v1h-1zM145 152h1v1h-1zM179 152h1v1h-1zM247 152h1v1h-1zM145 153h1v1h-1zM178 153h1v1h-1zM248 153h1v1h-1zM146 154h1v1h-1zM177 154h1v1h-1zM249 154h1v1h-1zM147 155h1v1h-1zM175 155h2v1h-2zM249 155h1v1h-1zM148 156h1v1h-1zM160 156h15v1h-15zM250 156h1v1h-1zM148 157h1v1h-1zM155 157h5v1h-5zM251 157h1v1h-1zM149 158h1v1h-1zM152 158h3v1h-3zM252 158h1v1h-1zM150 159h2v1h-2zM252 159h1v1h-1zM253 160h1v1h-1zM253 161h1v1h-1zM254 162h1v1h-1zM254 163h1v1h-1zM255 164h1v1h-1zM256 165h1v1h-1zM256 166h1v1h-1zM257 167h1v1h-1zM258 168h1v1h-1zM259 169h1v1h-1zM259 170h1v1h-1zM260 171h1v1h-1zM261 172h1v1h-1zM261 173h1v1h-1zM262 174h1v1h-1zM262 175h1v1h-1zM263 176h1v1h-1zM263 177h1v1h-1zM264 178h1v1h-1zM912 178h6v1h-6zM265 179h1v1h-1zM910 179h2v1h-2zM918 179h1v1h-1zM265 180h1v1h-1zM908 180h2v1h-2zM919 180h2v1h-2zM266 181h1v1h-1zM906 181h2v1h-2zM921 181h1v1h-1zM267 182h1v1h-1zM905 182h1v1h-1zM922 182h1v1h-1zM267 183h1v1h-1zM904 183h1v1h-1zM922 183h1v1h-1zM268 184h1v1h-1zM903 184h1v1h-1zM923 184h1v1h-1zM269 185h1v1h-1zM902 185h1v1h-1zM923 185h1v1h-1zM269 186h1v1h-1zM901 186h1v1h-1zM924 186h1v1h-1zM270 187h9v1h-9zM900 187h1v1h-1zM924 187h1v1h-1zM279 188h2v1h-2zM899 188h1v1h-1zM925 188h1v1h-1zM281 189h2v1h-2zM898 189h1v1h-1zM925 189h1v1h-1zM283 190h2v1h-2zM897 190h1v1h-1zM926 190h1v1h-1zM285 191h1v1h-1zM896 191h1v1h-1zM286 192h2v1h-2zM895 192h1v1h-1zM288 193h2v1h-2zM894 193h1v1h-1zM290 194h9v1h-9zM315 194h4v1h-4zM892 194h2v1h-2zM299 195h2v1h-2zM309 195h6v1h-6zM319 195h2v1h-2zM890 195h2v1h-2zM301 196h2v1h-2zM305 196h4v1h-4zM321 196h2v1h-2zM888 196h2v1h-2zM303 197h2v1h-2zM323 197h1v1h-1zM886 197h2v1h-2zM324 198h1v1h-1zM884 198h2v1h-2zM325 199h1v1h-1zM883 199h1v1h-1zM326 200h1v1h-1zM881 200h2v1h-2zM326 201h1v1h-1zM880 201h1v1h-1zM327 202h1v1h-1zM879 202h1v1h-1zM328 203h1v1h-1zM878 203h1v1h-1zM329 204h1v1h-1zM878 204h1v1h-1zM330 205h1v1h-1zM877 205h1v1h-1zM331 206h1v1h-1zM877 206h1v1h-1zM331 207h1v1h-1zM876 207h1v1h-1zM332 208h1v1h-1zM876 208h1v1h-1zM333 209h1v1h-1zM875 209h1v1h-1zM333 210h1v1h-1zM875 210h1v1h-1zM334 211h1v1h-1zM874 211h1v1h-1zM335 212h1v1h-1zM874 212h1v1h-1zM336 213h1v1h-1zM873 213h1v1h-1zM336 214h1v1h-1zM873 214h1v1h-1zM337 215h1v1h-1zM795 215h3v1h-3zM872 215h1v1h-1zM338 216h1v1h-1zM793 216h2v1h-2zM798 216h2v1h-2zM872 216h1v1h-1zM338 217h1v1h-1zM791 217h2v1h-2zM800 217h2v1h-2zM871 217h1v1h-1zM339 218h1v1h-1zM790 218h1v1h-1zM802 218h1v1h-1zM871 218h1v1h-1zM340 219h1v1h-1zM789 219h1v1h-1zM803 219h2v1h-2zM871 219h1v1h-1zM340 220h1v1h-1zM787 220h2v1h-2zM805 220h1v1h-1zM870 220h1v1h-1zM341 221h1v1h-1zM786 221h1v1h-1zM806 221h2v1h-2zM870 221h1v1h-1zM342 222h1v1h-1zM404 222h9v1h-9zM426 222h3v1h-3zM785 222h1v1h-1zM808 222h2v1h-2zM869 222h1v1h-1zM342 223h1v1h-1zM402 223h2v1h-2zM413 223h4v1h-4zM421 223h5v1h-5zM429 223h2v1h-2zM783 223h2v1h-2zM810 223h1v1h-1zM869 223h1v1h-1zM343 224h1v1h-1zM400 224h2v1h-2zM417 224h4v1h-4zM431 224h1v1h-1zM781 224h2v1h-2zM811 224h1v1h-1zM868 224h1v1h-1zM344 225h1v1h-1zM399 225h1v1h-1zM432 225h2v1h-2zM780 225h1v1h-1zM812 225h2v1h-2zM868 225h1v1h-1zM345 226h1v1h-1zM397 226h2v1h-2zM434 226h1v1h-1zM778 226h2v1h-2zM814 226h1v1h-1zM867 226h1v1h-1zM346 227h2v1h-2zM396 227h1v1h-1zM435 227h2v1h-2zM776 227h2v1h-2zM815 227h1v1h-1zM867 227h1v1h-1zM348 228h1v1h-1zM395 228h1v1h-1zM437 228h1v1h-1zM774 228h2v1h-2zM816 228h1v1h-1zM866 228h1v1h-1zM349 229h1v1h-1zM394 229h1v1h-1zM438 229h2v1h-2zM773 229h1v1h-1zM817 229h1v1h-1zM866 229h1v1h-1zM350 230h1v1h-1zM394 230h1v1h-1zM440 230h1v1h-1zM772 230h1v1h-1zM818 230h1v1h-1zM865 230h1v1h-1zM351 231h1v1h-1zM393 231h1v1h-1zM441 231h2v1h-2zM771 231h1v1h-1zM819 231h1v1h-1zM865 231h1v1h-1zM352 232h1v1h-1zM392 232h1v1h-1zM443 232h1v1h-1zM770 232h1v1h-1zM819 232h1v1h-1zM864 232h1v1h-1zM352 233h1v1h-1zM391 233h1v1h-1zM444 233h2v1h-2zM769 233h1v1h-1zM820 233h1v1h-1zM864 233h1v1h-1zM353 234h1v1h-1zM390 234h1v1h-1zM446 234h4v1h-4zM768 234h1v1h-1zM820 234h1v1h-1zM863 234h1v1h-1zM354 235h1v1h-1zM389 235h1v1h-1zM450 235h9v1h-9zM768 235h1v1h-1zM821 235h1v1h-1zM862 235h1v1h-1zM355 236h1v1h-1zM388 236h1v1h-1zM459 236h2v1h-2zM767 236h1v1h-1zM821 236h1v1h-1zM861 236h1v1h-1zM356 237h1v1h-1zM387 237h1v1h-1zM461 237h1v1h-1zM766 237h1v1h-1zM822 237h1v1h-1zM861 237h1v1h-1zM356 238h1v1h-1zM386 238h1v1h-1zM462 238h1v1h-1zM766 238h1v1h-1zM823 238h1v1h-1zM860 238h1v1h-1zM357 239h1v1h-1zM385 239h1v1h-1zM463 239h2v1h-2zM765 239h1v1h-1zM824 239h6v1h-6zM838 239h2v1h-2zM859 239h1v1h-1zM357 240h1v1h-1zM384 240h1v1h-1zM465 240h1v1h-1zM765 240h1v1h-1zM830 240h8v1h-8zM840 240h2v1h-2zM858 240h1v1h-1zM358 241h1v1h-1zM383 241h1v1h-1zM466 241h2v1h-2zM764 241h1v1h-1zM842 241h2v1h-2zM857 241h1v1h-1zM359 242h2v1h-2zM382 242h1v1h-1zM468 242h1v1h-1zM764 242h1v1h-1zM844 242h1v1h-1zM855 242h2v1h-2zM361 243h1v1h-1zM381 243h1v1h-1zM469 243h1v1h-1zM764 243h1v1h-1zM845 243h2v1h-2zM854 243h1v1h-1zM362 244h2v1h-2zM380 244h1v1h-1zM470 244h1v1h-1zM763 244h1v1h-1zM847 244h7v1h-7zM364 245h3v1h-3zM378 245h2v1h-2zM471 245h1v1h-1zM763 245h1v1h-1zM367 246h2v1h-2zM375 246h3v1h-3zM472 246h1v1h-1zM763 246h1v1h-1zM369 247h2v1h-2zM373 247h2v1h-2zM472 247h1v1h-1zM762 247h1v1h-1zM371 248h2v1h-2zM473 248h1v1h-1zM762 248h1v1h-1zM474 249h1v1h-1zM762 249h1v1h-1zM475 250h1v1h-1zM762 250h1v1h-1zM476 251h1v1h-1zM761 251h1v1h-1zM477 252h1v1h-1zM761 252h1v1h-1zM478 253h1v1h-1zM761 253h1v1h-1zM478 254h1v1h-1zM761 254h1v1h-1zM479 255h1v1h-1zM761 255h1v1h-1zM479 256h1v1h-1zM760 256h1v1h-1zM480 257h1v1h-1zM760 257h1v1h-1zM480 258h1v1h-1zM760 258h1v1h-1zM481 259h1v1h-1zM760 259h1v1h-1zM482 260h1v1h-1zM759 260h1v1h-1zM482 261h1v1h-1zM759 261h1v1h-1zM483 262h1v1h-1zM758 262h1v1h-1zM483 263h1v1h-1zM758 263h1v1h-1zM484 264h1v1h-1zM757 264h1v1h-1zM485 265h1v1h-1zM757 265h1v1h-1zM485 266h1v1h-1zM756 266h1v1h-1zM486 267h1v1h-1zM756 267h1v1h-1zM486 268h1v1h-1zM755 268h1v1h-1zM487 269h1v1h-1zM755 269h1v1h-1zM487 270h1v1h-1zM754 270h1v1h-1zM488 271h1v1h-1zM754 271h1v1h-1zM489 272h1v1h-1zM753 272h1v1h-1zM489 273h1v1h-1zM753 273h1v1h-1zM490 274h1v1h-1zM752 274h1v1h-1zM490 275h1v1h-1zM751 275h1v1h-1zM491 276h1v1h-1zM750 276h1v1h-1zM492 277h1v1h-1zM750 277h1v1h-1zM492 278h1v1h-1zM749 278h1v1h-1zM493 279h1v1h-1zM748 279h1v1h-1zM494 280h1v1h-1zM747 280h1v1h-1zM494 281h1v1h-1zM747 281h1v1h-1zM495 282h1v1h-1zM746 282h1v1h-1zM495 283h1v1h-1zM745 283h1v1h-1zM496 284h1v1h-1zM745 284h1v1h-1zM497 285h1v1h-1zM744 285h1v1h-1zM497 286h1v1h-1zM744 286h1v1h-1zM498 287h1v1h-1zM743 287h1v1h-1zM498 288h1v1h-1zM743 288h1v1h-1zM499 289h1v1h-1zM742 289h1v1h-1zM499 290h1v1h-1zM741 290h1v1h-1zM500 291h1v1h-1zM741 291h1v1h-1zM501 292h1v1h-1zM740 292h1v1h-1zM501 293h1v1h-1zM739 293h1v1h-1zM502 294h1v1h-1zM739 294h1v1h-1zM502 295h1v1h-1zM738 295h1v1h-1zM503 296h1v1h-1zM738 296h1v1h-1zM503 297h1v1h-1zM737 297h1v1h-1zM504 298h1v1h-1zM736 298h1v1h-1zM504 299h1v1h-1zM736 299h1v1h-1zM505 300h1v1h-1zM730 300h6v1h-6zM505 301h1v1h-1zM729 301h1v1h-1zM505 302h1v1h-1zM729 302h1v1h-1zM506 303h1v1h-1zM728 303h1v1h-1zM506 304h1v1h-1zM727 304h1v1h-1zM506 305h1v1h-1zM727 305h1v1h-1zM507 306h1v1h-1zM726 306h1v1h-1zM507 307h1v1h-1zM725 307h1v1h-1zM507 308h1v1h-1zM725 308h1v1h-1zM508 309h1v1h-1zM724 309h1v1h-1zM508 310h1v1h-1zM723 310h1v1h-1zM508 311h1v1h-1zM723 311h1v1h-1zM509 312h1v1h-1zM722 312h1v1h-1zM509 313h1v1h-1zM721 313h1v1h-1zM509 314h1v1h-1zM721 314h1v1h-1zM509 315h1v1h-1zM720 315h1v1h-1zM510 316h1v1h-1zM719 316h1v1h-1zM510 317h1v1h-1zM705 317h3v1h-3zM718 317h1v1h-1zM510 318h1v1h-1zM704 318h1v1h-1zM708 318h3v1h-3zM717 318h1v1h-1zM511 319h1v1h-1zM704 319h1v1h-1zM711 319h2v1h-2zM717 319h1v1h-1zM511 320h1v1h-1zM703 320h1v1h-1zM713 320h2v1h-2zM716 320h1v1h-1zM511 321h1v1h-1zM702 321h1v1h-1zM715 321h1v1h-1zM512 322h1v1h-1zM702 322h1v1h-1zM512 323h1v1h-1zM701 323h1v1h-1zM512 324h1v1h-1zM701 324h1v1h-1zM512 325h1v1h-1zM700 325h1v1h-1zM513 326h1v1h-1zM700 326h1v1h-1zM513 327h1v1h-1zM699 327h1v1h-1zM513 328h1v1h-1zM699 328h1v1h-1zM514 329h1v1h-1zM699 329h1v1h-1zM514 330h1v1h-1zM698 330h1v1h-1zM515 331h1v1h-1zM698 331h1v1h-1zM515 332h1v1h-1zM698 332h1v1h-1zM515 333h1v1h-1zM697 333h1v1h-1zM516 334h1v1h-1zM697 334h1v1h-1zM516 335h1v1h-1zM697 335h1v1h-1zM517 336h1v1h-1zM696 336h1v1h-1zM517 337h1v1h-1zM696 337h1v1h-1zM518 338h1v1h-1zM696 338h1v1h-1zM518 339h1v1h-1zM695 339h1v1h-1zM518 340h1v1h-1zM695 340h1v1h-1zM519 341h1v1h-1zM694 341h1v1h-1zM519 342h1v1h-1zM694 342h1v1h-1zM520 343h1v1h-1zM693 343h1v1h-1zM520 344h1v1h-1zM692 344h1v1h-1zM520 345h1v1h-1zM691 345h1v1h-1zM521 346h1v1h-1zM691 346h1v1h-1zM521 347h1v1h-1zM690 347h1v1h-1zM521 348h1v1h-1zM689 348h1v1h-1zM522 349h1v1h-1zM688 349h1v1h-1zM522 350h1v1h-1zM687 350h1v1h-1zM522 351h1v1h-1zM686 351h1v1h-1zM523 352h1v1h-1zM686 352h1v1h-1zM523 353h1v1h-1zM685 353h1v1h-1zM523 354h1v1h-1zM684 354h1v1h-1zM524 355h1v1h-1zM683 355h1v1h-1zM524 356h1v1h-1zM682 356h1v1h-1zM524 357h1v1h-1zM682 357h1v1h-1zM525 358h1v1h-1zM681 358h1v1h-1zM525 359h1v1h-1zM680 359h1v1h-1zM525 360h1v1h-1zM679 360h1v1h-1zM526 361h1v1h-1zM679 361h1v1h-1zM526 362h1v1h-1zM678 362h1v1h-1zM526 363h1v1h-1zM678 363h1v1h-1zM527 364h1v1h-1zM677 364h1v1h-1zM527 365h1v1h-1zM677 365h1v1h-1zM528 366h1v1h-1zM676 366h1v1h-1zM528 367h1v1h-1zM676 367h1v1h-1zM529 368h1v1h-1zM675 368h1v1h-1zM529 369h1v1h-1zM675 369h1v1h-1zM529 370h1v1h-1zM674 370h1v1h-1zM530 371h1v1h-1zM674 371h1v1h-1zM530 372h1v1h-1zM674 372h1v1h-1zM531 373h1v1h-1zM673 373h1v1h-1zM531 374h1v1h-1zM673 374h1v1h-1zM531 375h1v1h-1zM672 375h1v1h-1zM532 376h1v1h-1zM672 376h1v1h-1zM532 377h1v1h-1zM671 377h1v1h-1zM533 378h1v1h-1zM671 378h1v1h-1zM533 379h1v1h-1zM670 379h1v1h-1zM534 380h1v1h-1zM670 380h1v1h-1zM534 381h1v1h-1zM670 381h1v1h-1zM534 382h1v1h-1zM669 382h1v1h-1zM535 383h1v1h-1zM669 383h1v1h-1zM535 384h1v1h-1zM668 384h1v1h-1zM536 385h1v1h-1zM668 385h1v1h-1zM536 386h1v1h-1zM668 386h1v1h-1zM537 387h1v1h-1zM667 387h1v1h-1zM537 388h1v1h-1zM667 388h1v1h-1zM538 389h1v1h-1zM666 389h1v1h-1zM538 390h1v1h-1zM666 390h1v1h-1zM539 391h1v1h-1zM665 391h1v1h-1zM539 392h1v1h-1zM665 392h1v1h-1zM540 393h1v1h-1zM664 393h1v1h-1zM540 394h1v1h-1zM664 394h1v1h-1zM541 395h1v1h-1zM663 395h1v1h-1zM541 396h1v1h-1zM663 396h1v1h-1zM542 397h1v1h-1zM662 397h1v1h-1zM542 398h1v1h-1zM662 398h1v1h-1zM543 399h1v1h-1zM661 399h1v1h-1zM543 400h1v1h-1zM661 400h1v1h-1zM544 401h1v1h-1zM661 401h1v1h-1zM544 402h1v1h-1zM660 402h1v1h-1zM545 403h1v1h-1zM660 403h1v1h-1zM545 404h1v1h-1zM659 404h1v1h-1zM546 405h1v1h-1zM659 405h1v1h-1zM547 406h1v1h-1zM659 406h1v1h-1zM547 407h1v1h-1zM658 407h1v1h-1zM548 408h1v1h-1zM658 408h1v1h-1zM549 409h1v1h-1zM657 409h1v1h-1zM549 410h1v1h-1zM657 410h1v1h-1zM550 411h1v1h-1zM657 411h1v1h-1zM551 412h1v1h-1zM656 412h1v1h-1zM551 413h1v1h-1zM656 413h1v1h-1zM552 414h1v1h-1zM656 414h1v1h-1zM553 415h1v1h-1zM655 415h1v1h-1zM553 416h1v1h-1zM655 416h1v1h-1zM554 417h1v1h-1zM655 417h1v1h-1zM554 418h1v1h-1zM655 418h1v1h-1zM555 419h1v1h-1zM654 419h1v1h-1zM555 420h1v1h-1zM654 420h1v1h-1zM556 421h1v1h-1zM654 421h1v1h-1zM556 422h1v1h-1zM653 422h1v1h-1zM557 423h1v1h-1zM653 423h1v1h-1zM557 424h1v1h-1zM652 424h1v1h-1zM558 425h1v1h-1zM652 425h1v1h-1zM558 426h1v1h-1zM651 426h1v1h-1zM559 427h1v1h-1zM651 427h1v1h-1zM559 428h1v1h-1zM650 428h1v1h-1zM560 429h1v1h-1zM649 429h1v1h-1zM561 430h1v1h-1zM649 430h1v1h-1zM562 431h1v1h-1zM648 431h1v1h-1zM562 432h1v1h-1zM647 432h1v1h-1zM563 433h1v1h-1zM645 433h2v1h-2zM564 434h1v1h-1zM644 434h1v1h-1zM565 435h2v1h-2zM642 435h2v1h-2zM567 436h2v1h-2zM640 436h2v1h-2zM569 437h2v1h-2zM637 437h3v1h-3zM571 438h2v1h-2zM635 438h2v1h-2zM573 439h2v1h-2zM633 439h2v1h-2zM575 440h6v1h-6zM631 440h2v1h-2zM581 441h7v1h-7zM629 441h2v1h-2zM588 442h5v1h-5zM622 442h7v1h-7zM593 443h4v1h-4zM613 443h9v1h-9zM597 444h3v1h-3zM609 444h4v1h-4zM600 445h2v1h-2zM605 445h4v1h-4zM602 446h3v1h-3z" fill="#ff0000"/>
<rect x="6" y="114" width="1" height="21" fill="#32cd32"/>
<rect x="5" y="114" width="3" height="11" fill="#32cd32"/>
<rect x="10" y="108" width="1" height="27" fill="#ff0000"/>
<rect x="9" y="118" width="3" height="7" fill="#ff0000"/>
<rect x="10" y="119" width="1" height="5" fill="#ff4500"/>
<rect x="14" y="105" width="1" height="58" fill="#32cd32"/>
<rect x="13" y="118" width="3" height="41" fill="#32cd32"/>
<rect x="18" y="122" width="1" height="39" fill="#ff0000"/>
<rect x="17" y="131" width="3" height="28" fill="#ff0000"/>
<rect x="18" y="132" width="1" height="26" fill="#ff4500"/>
<rect x="22" y="130" width="1" height="10" fill="#32cd32"/>
<rect x="21" y="131" width="3" height="3" fill="#32cd32"/>
<rect x="26" y="130" width="1" height="27" fill="#ff0000"/>
<rect x="25" y="132" width="3" height="11" fill="#ff0000"/>
<rect x="26" y="133" width="1" height="9" fill="#ff4500"/>
<rect x="30" y="124" width="1" height="27" fill="#32cd32"/>
<rect x="29" y="131" width="3" height="19" fill="#32cd32"/>
<rect x="34" y="135" width="1" height="36" fill="#ff0000"/>
<rect x="33" y="137" width="3" height="13" fill="#ff0000"/>
<rect x="34" y="138" width="1" height="11" fill="#ff4500"/>
<rect x="38" y="124" width="1" height="47" fill="#32cd32"/>
<rect x="37" y="137" width="3" height="19" fill="#32cd32"/>
<rect x="42" y="128" width="1" height="32" fill="#ff0000"/>
<rect x="41" y="130" width="3" height="25" fill="#ff0000"/>
<rect x="42" y="131" width="1" height="23" fill="#ff4500"/>
<rect x="46" y="120" width="1" height="14" fill="#ff0000"/>
<rect x="45" y="124" width="3" height="8" fill="#ff0000"/>
<rect x="46" y="125" width="1" height="6" fill="#ff4500"/>
<rect x="50" y="95" width="1" height="31" fill="#ff0000"/>
<rect x="49" y="100" width="3" height="24" fill="#ff0000"/>
<rect x="50" y="101" width="1" height="22" fill="#ff4500"/>
<rect x="54" y="80" width="1" height="31" fill="#ff0000"/>
<rect x="53" y="85" width="3" height="16" fill="#ff0000"/>
<rect x="54" y="86" width="1" height="14" fill="#ff4500"/>
<rect x="58" y="80" width="1" height="21" fill="#ff0000"/>
<rect x="57" y="85" width="3" height="14" fill="#ff0000"/>
<rect x="58" y="86" width="1" height="12" fill="#ff4500"/>
<rect x="62" y="85" width="1" height="26" fill="#32cd32"/>
<rect x="61" y="88" width="3" height="13" fill="#32cd32"/>
<rect x="66" y="85" width="1" height="29" fill="#ff0000"/>
<rect x="65" y="90" width="3" height="11" fill="#ff0000"/>
<rect x="66" y="91" width="1" height="9" fill="#ff4500"/>
<rect x="70" y="85" width="1" height="29" fill="#ff0000"/>
<rect x="69" y="90" width="3" height="11" fill="#ff0000"/>
<rect x="70" y="91" width="1" height="9" fill="#ff4500"/>
<rect x="74" y="95" width="1" height="34" fill="#32cd32"/>
<rect x="73" y="100" width="3" height="19" fill="#32cd32"/>
<rect x="78" y="107" width="1" height="35" fill="#32cd32"/>
<rect x="77" y="118" width="3" height="22" fill="#32cd32"/>
<rect x="82" y="132" width="1" height="28" fill="#32cd32"/>
<rect x="81" y="138" width="3" height="11" fill="#32cd32"/>
<rect x="86" y="133" width="1" height="27" fill="#32cd32"/>
<rect x="85" y="148" width="3" height="12" fill="#32cd32"/>
<rect x="90" y="144" width="1" height="37" fill="#ff0000"/>
<rect x="89" y="147" width="3" height="5" fill="#ff0000"/>
<rect x="90" y="148" width="1" height="3" fill="#ff4500"/>
<rect x="94" y="120" width="1" height="34" fill="#ff0000"/>
<rect x="93" y="147" width="3" height="2" fill="#ff0000"/>
<rect x="98" y="145" width="1" height="52" fill="#32cd32"/>
<rect x="97" y="146" width="3" height="21" fill="#32cd32"/>
<rect x="102" y="149" width="1" height="34" fill="#ff0000"/>
<rect x="101" y="154" width="3" height="14" fill="#ff0000"/>
<rect x="102" y="155" width="1" height="12" fill="#ff4500"/>
<rect x="106" y="149" width="1" height="34" fill="#32cd32"/>
<rect x="105" y="154" width="3" height="17" fill="#32cd32"/>
<rect x="110" y="144" width="1" height="27" fill="#ff0000"/>
<rect x="109" y="159" width="3" height="12" fill="#ff0000"/>
<rect x="110" y="160" width="1" height="10" fill="#ff4500"/>
<rect x="114" y="105" width="1" height="67" fill="#ff0000"/>
<rect x="113" y="118" width="3" height="51" fill="#ff0000"/>
<rect x="114" y="119" width="1" height="49" fill="#ff4500"/>
<rect x="118" y="117" width="1" height="33" fill="#32cd32"/>
<rect x="117" y="118" width="3" height="17" fill="#32cd32"/>
<rect x="122" y="134" width="1" height="29" fill="#32cd32"/>
<rect x="121" y="134" width="3" height="23" fill="#32cd32"/>
<rect x="126" y="151" width="1" height="38" fill="#32cd32"/>
<rect x="125" y="155" width="3" height="32" fill="#32cd32"/>
<rect x="130" y="136" width="1" height="64" fill="#ff0000"/>
<rect x="129" y="139" width="3" height="48" fill="#ff0000"/>
<rect x="130" y="140" width="1" height="46" fill="#ff4500"/>
<rect x="134" y="137" width="1" height="28" fill="#32cd32"/>
<rect x="133" y="138" width="3" height="16" fill="#32cd32"/>
<rect x="138" y="119" width="1" height="36" fill="#ff0000"/>
<rect x="137" y="136" width="3" height="16" fill="#ff0000"/>
<rect x="138" y="137" width="1" height="14" fill="#ff4500"/>
<rect x="142" y="134" width="1" height="22" fill="#32cd32"/>
<rect x="141" y="136" width="3" height="13" fill="#32cd32"/>
<rect x="146" y="146" width="1" height="62" fill="#32cd32"/>
<rect x="145" y="148" width="3" height="51" fill="#32cd32"/>
<rect x="150" y="185" width="1" height="30" fill="#32cd32"/>
<rect x="149" y="197" width="3" height="5" fill="#32cd32"/>
<rect x="154" y="157" width="1" height="45" fill="#ff0000"/>
<rect x="153" y="157" width="3" height="45" fill="#ff0000"/>
<rect x="154" y="158" width="1" height="43" fill="#ff4500"/>
<rect x="158" y="146" width="1" height="18" fill="#ff0000"/>
<rect x="157" y="151" width="3" height="8" fill="#ff0000"/>
<rect x="158" y="152" width="1" height="6" fill="#ff4500"/>
<rect x="162" y="141" width="1" height="31" fill="#ff0000"/>
<rect x="161" y="142" width="3" height="14" fill="#ff0000"/>
<rect x="162" y="143" width="1" height="12" fill="#ff4500"/>
<rect x="166" y="127" width="1" height="40" fill="#32cd32"/>
<rect x="165" y="142" width="3" height="22" fill="#32cd32"/>
<rect x="170" y="109" width="1" height="63" fill="#ff0000"/>
<rect x="169" y="130" width="3" height="34" fill="#ff0000"/>
<rect x="170" y="131" width="1" height="32" fill="#ff4500"/>
<rect x="174" y="105" width="1" height="39" fill="#ff0000"/>
<rect x="173" y="116" width="3" height="17" fill="#ff0000"/>
<rect x="174" y="117" width="1" height="15" fill="#ff4500"/>
<rect x="178" y="105" width="1" height="44" fill="#32cd32"/>
<rect x="177" y="116" width="3" height="18" fill="#32cd32"/>
<rect x="182" y="110" width="1" height="27" fill="#ff0000"/>
<rect x="181" y="118" width="3" height="16" fill="#ff0000"/>
<rect x="182" y="119" width="1" height="14" fill="#ff4500"/>
<rect x="186" y="95" width="1" height="42" fill="#ff0000"/>
<rect x="185" y="100" width="3" height="25" fill="#ff0000"/>
<rect x="186" y="101" width="1" height="23" fill="#ff4500"/>
<rect x="190" y="95" width="1" height="34" fill="#32cd32"/>
<rect x="189" y="103" width="3" height="3" fill="#32cd32"/>
<rect x="194" y="95" width="1" height="42" fill="#32cd32"/>
<rect x="193" y="100" width="3" height="25" fill="#32cd32"/>
<rect x="198" y="95" width="1" height="42" fill="#ff0000"/>
<rect x="197" y="100" width="3" height="25" fill="#ff0000"/>
<rect x="198" y="101" width="1" height="23" fill="#ff4500"/>
<rect x="202" y="95" width="1" height="39" fill="#32cd32"/>
<rect x="201" y="100" width="3" height="32" fill="#32cd32"/>
<rect x="206" y="126" width="1" height="11" fill="#32cd32"/>
<rect x="205" y="130" width="3" height="5" fill="#32cd32"/>
<rect x="210" y="127" width="1" height="20" fill="#32cd32"/>
<rect x="209" y="138" width="3" height="4" fill="#32cd32"/>
<rect x="214" y="132" width="1" height="28" fill="#32cd32"/>
<rect x="213" y="139" width="3" height="17" fill="#32cd32"/>
<rect x="218" y="148" width="1" height="32" fill="#32cd32"/>
<rect x="217" y="154" width="3" height="19" fill="#32cd32"/>
<rect x="222" y="159" width="1" height="24" fill="#ff0000"/>
<rect x="221" y="171" width="3" height="2" fill="#ff0000"/>
<rect x="226" y="135" width="1" height="38" fill="#ff0000"/>
<rect x="225" y="162" width="3" height="11" fill="#ff0000"/>
<rect x="226" y="163" width="1" height="9" fill="#ff4500"/>
<rect x="230" y="158" width="1" height="17" fill="#32cd32"/>
<rect x="229" y="162" width="3" height="1" fill="#32cd32"/>
<rect x="234" y="168" width="1" height="25" fill="#32cd32"/>
<rect x="233" y="171" width="3" height="20" fill="#32cd32"/>
<rect x="238" y="165" width="1" height="41" fill="#ff0000"/>
<rect x="237" y="173" width="3" height="18" fill="#ff0000"/>
<rect x="238" y="174" width="1" height="16" fill="#ff4500"/>
<rect x="242" y="143" width="1" height="35" fill="#ff0000"/>
<rect x="241" y="152" width="3" height="23" fill="#ff0000"/>
<rect x="242" y="153" width="1" height="21" fill="#ff4500"/>
<rect x="246" y="146" width="1" height="35" fill="#32cd32"/>
<rect x="245" y="152" width="3" height="5" fill="#32cd32"/>
<rect x="250" y="154" width="1" height="54" fill="#32cd32"/>
<rect x="249" y="154" width="3" height="53" fill="#32cd32"/>
<rect x="254" y="196" width="1" height="17" fill="#ff0000"/>
<rect x="253" y="199" width="3" height="8" fill="#ff0000"/>
<rect x="254" y="200" width="1" height="6" fill="#ff4500"/>
<rect x="258" y="185" width="1" height="34" fill="#ff0000"/>
<rect x="257" y="202" width="3" height="3" fill="#ff0000"/>
<rect x="258" y="203" width="1" height="1" fill="#ff4500"/>
<rect x="262" y="188" width="1" height="29" fill="#32cd32"/>
<rect x="261" y="202" width="3" height="9" fill="#32cd32"/>
<rect x="266" y="202" width="1" height="30" fill="#32cd32"/>
<rect x="265" y="210" width="3" height="16" fill="#32cd32"/>
<rect x="270" y="224" width="1" height="46" fill="#32cd32"/>
<rect x="269" y="224" width="3" height="25" fill="#32cd32"/>
<rect x="274" y="170" width="1" height="81" fill="#ff0000"/>
<rect x="273" y="182" width="3" height="67" fill="#ff0000"/>
<rect x="274" y="183" width="1" height="65" fill="#ff4500"/>
<rect x="278" y="151" width="1" height="34" fill="#ff0000"/>
<rect x="277" y="160" width="3" height="24" fill="#ff0000"/>
<rect x="278" y="161" width="1" height="22" fill="#ff4500"/>
<rect x="282" y="149" width="1" height="40" fill="#32cd32"/>
<rect x="281" y="150" width="3" height="35" fill="#32cd32"/>
<rect x="286" y="165" width="1" height="37" fill="#32cd32"/>
<rect x="285" y="184" width="3" height="17" fill="#32cd32"/>
<rect x="290" y="183" width="1" height="31" fill="#ff0000"/>
<rect x="289" y="196" width="3" height="5" fill="#ff0000"/>
<rect x="290" y="197" width="1" height="3" fill="#ff4500"/>
<rect x="294" y="175" width="1" height="34" fill="#32cd32"/>
<rect x="293" y="196" width="3" height="11" fill="#32cd32"/>
<rect x="298" y="147" width="1" height="75" fill="#ff0000"/>
<rect x="297" y="170" width="3" height="37" fill="#ff0000"/>
<rect x="298" y="171" width="1" height="35" fill="#ff4500"/>
<rect x="302" y="167" width="1" height="21" fill="#32cd32"/>
<rect x="301" y="171" width="3" height="11" fill="#32cd32"/>
<rect x="306" y="164" width="1" height="37" fill="#ff0000"/>
<rect x="305" y="180" width="3" height="9" fill="#ff0000"/>
<rect x="306" y="181" width="1" height="7" fill="#ff4500"/>
<rect x="310" y="170" width="1" height="45" fill="#32cd32"/>
<rect x="309" y="180" width="3" height="11" fill="#32cd32"/>
<rect x="314" y="171" width="1" height="34" fill="#32cd32"/>
<rect x="313" y="189" width="3" height="3" fill="#32cd32"/>
<rect x="318" y="180" width="1" height="45" fill="#32cd32"/>
<rect x="317" y="190" width="3" height="35" fill="#32cd32"/>
<rect x="322" y="218" width="1" height="40" fill="#32cd32"/>
<rect x="321" y="223" width="3" height="34" fill="#32cd32"/>
<rect x="326" y="252" width="1" height="20" fill="#32cd32"/>
<rect x="325" y="255" width="3" height="15" fill="#32cd32"/>
<rect x="330" y="248" width="1" height="34" fill="#ff0000"/>
<rect x="329" y="258" width="3" height="8" fill="#ff0000"/>
<rect x="330" y="259" width="1" height="6" fill="#ff4500"/>
<rect x="334" y="253" width="1" height="25" fill="#32cd32"/>
<rect x="333" y="257" width="3" height="21" fill="#32cd32"/>
<rect x="338" y="258" width="1" height="26" fill="#ff0000"/>
<rect x="337" y="264" width="3" height="14" fill="#ff0000"/>
<rect x="338" y="265" width="1" height="12" fill="#ff4500"/>
<rect x="342" y="256" width="1" height="60" fill="#32cd32"/>
<rect x="341" y="264" width="3" height="21" fill="#32cd32"/>
<rect x="346" y="232" width="1" height="59" fill="#ff0000"/>
<rect x="345" y="248" width="3" height="37" fill="#ff0000"/>
<rect x="346" y="249" width="1" height="35" fill="#ff4500"/>
<rect x="350" y="248" width="1" height="15" fill="#32cd32"/>
<rect x="349" y="248" width="3" height="10" fill="#32cd32"/>
<rect x="354" y="235" width="1" height="33" fill="#ff0000"/>
<rect x="353" y="241" width="3" height="3" fill="#ff0000"/>
<rect x="354" y="242" width="1" height="1" fill="#ff4500"/>
<rect x="358" y="211" width="1" height="41" fill="#ff0000"/>
<rect x="357" y="232" width="3" height="11" fill="#ff0000"/>
<rect x="358" y="233" width="1" height="9" fill="#ff4500"/>
<rect x="362" y="205" width="1" height="40" fill="#ff0000"/>
<rect x="361" y="230" width="3" height="3" fill="#ff0000"/>
<rect x="362" y="231" width="1" height="1" fill="#ff4500"/>
<rect x="366" y="196" width="1" height="40" fill="#ff0000"/>
<rect x="365" y="203" width="3" height="29" fill="#ff0000"/>
<rect x="366" y="204" width="1" height="27" fill="#ff4500"/>
<rect x="370" y="198" width="1" height="29" fill="#32cd32"/>
<rect x="369" y="203" width="3" height="18" fill="#32cd32"/>
<rect x="374" y="205" width="1" height="17" fill="#ff0000"/>
<rect x="373" y="211" width="3" height="10" fill="#ff0000"/>
<rect x="374" y="212" width="1" height="8" fill="#ff4500"/>
<rect x="378" y="197" width="1" height="22" fill="#ff0000"/>
<rect x="377" y="212" width="3" height="7" fill="#ff0000"/>
<rect x="378" y="213" width="1" height="5" fill="#ff4500"/>
<rect x="382" y="188" width="1" height="31" fill="#ff0000"/>
<rect x="381" y="197" width="3" height="16" fill="#ff0000"/>
<rect x="382" y="198" width="1" height="14" fill="#ff4500"/>
<rect x="386" y="190" width="1" height="48" fill="#32cd32"/>
<rect x="385" y="197" width="3" height="26" fill="#32cd32"/>
<rect x="390" y="208" width="1" height="22" fill="#32cd32"/>
<rect x="389" y="221" width="3" height="3" fill="#32cd32"/>
<rect x="394" y="222" width="1" height="15" fill="#32cd32"/>
<rect x="393" y="223" width="3" height="13" fill="#32cd32"/>
<rect x="398" y="221" width="1" height="9" fill="#ff0000"/>
<rect x="397" y="222" width="3" height="5" fill="#ff0000"/>
<rect x="398" y="223" width="1" height="3" fill="#ff4500"/>
<rect x="402" y="211" width="1" height="44" fill="#32cd32"/>
<rect x="401" y="222" width="3" height="28" fill="#32cd32"/>
<rect x="406" y="220" width="1" height="30" fill="#ff0000"/>
<rect x="405" y="235" width="3" height="15" fill="#ff0000"/>
<rect x="406" y="236" width="1" height="13" fill="#ff4500"/>
<rect x="410" y="193" width="1" height="44" fill="#ff0000"/>
<rect x="409" y="202" width="3" height="34" fill="#ff0000"/>
<rect x="410" y="203" width="1" height="32" fill="#ff4500"/>
<rect x="414" y="194" width="1" height="28" fill="#32cd32"/>
<rect x="413" y="202" width="3" height="19" fill="#32cd32"/>
<rect x="418" y="204" width="1" height="33" fill="#32cd32"/>
<rect x="417" y="219" width="3" height="17" fill="#32cd32"/>
<rect x="422" y="234" width="1" height="10" fill="#32cd32"/>
<rect x="421" y="235" width="3" height="7" fill="#32cd32"/>
<rect x="426" y="221" width="1" height="22" fill="#ff0000"/>
<rect x="425" y="227" width="3" height="14" fill="#ff0000"/>
<rect x="426" y="228" width="1" height="12" fill="#ff4500"/>
<rect x="430" y="196" width="1" height="43" fill="#32cd32"/>
<rect x="429" y="227" width="3" height="9" fill="#32cd32"/>
<rect x="434" y="219" width="1" height="31" fill="#32cd32"/>
<rect x="433" y="235" width="3" height="14" fill="#32cd32"/>
<rect x="438" y="227" width="1" height="39" fill="#ff0000"/>
<rect x="437" y="236" width="3" height="13" fill="#ff0000"/>
<rect x="438" y="237" width="1" height="11" fill="#ff4500"/>
<rect x="442" y="227" width="1" height="31" fill="#32cd32"/>
<rect x="441" y="236" width="3" height="20" fill="#32cd32"/>
<rect x="446" y="250" width="1" height="8" fill="#ff0000"/>
<rect x="445" y="253" width="3" height="3" fill="#ff0000"/>
<rect x="446" y="254" width="1" height="1" fill="#ff4500"/>
<rect x="450" y="237" width="1" height="31" fill="#ff0000"/>
<rect x="449" y="238" width="3" height="11" fill="#ff0000"/>
<rect x="450" y="239" width="1" height="9" fill="#ff4500"/>
<rect x="454" y="215" width="1" height="50" fill="#ff0000"/>
<rect x="453" y="220" width="3" height="20" fill="#ff0000"/>
<rect x="454" y="221" width="1" height="18" fill="#ff4500"/>
<rect x="458" y="185" width="1" height="89" fill="#32cd32"/>
<rect x="457" y="220" width="3" height="43" fill="#32cd32"/>
<rect x="462" y="238" width="1" height="30" fill="#ff0000"/>
<rect x="461" y="258" width="3" height="5" fill="#ff0000"/>
<rect x="462" y="259" width="1" height="3" fill="#ff4500"/>
<rect x="466" y="248" width="1" height="21" fill="#ff0000"/>
<rect x="465" y="255" width="3" height="4" fill="#ff0000"/>
<rect x="466" y="256" width="1" height="2" fill="#ff4500"/>
<rect x="470" y="249" width="1" height="19" fill="#32cd32"/>
<rect x="469" y="256" width="3" height="11" fill="#32cd32"/>
<rect x="474" y="258" width="1" height="50" fill="#32cd32"/>
<rect x="473" y="261" width="3" height="40" fill="#32cd32"/>
<rect x="478" y="290" width="1" height="16" fill="#32cd32"/>
<rect x="477" y="299" width="3" height="3" fill="#32cd32"/>
<rect x="482" y="290" width="1" height="32" fill="#32cd32"/>
<rect x="481" y="300" width="3" height="21" fill="#32cd32"/>
<rect x="486" y="317" width="1" height="37" fill="#32cd32"/>
<rect x="485" y="319" width="3" height="29" fill="#32cd32"/>
<rect x="490" y="333" width="1" height="27" fill="#32cd32"/>
<rect x="489" y="345" width="3" height="4" fill="#32cd32"/>
<rect x="494" y="345" width="1" height="12" fill="#32cd32"/>
<rect x="493" y="347" width="3" height="6" fill="#32cd32"/>
<rect x="498" y="335" width="1" height="25" fill="#32cd32"/>
<rect x="497" y="350" width="3" height="6" fill="#32cd32"/>
<rect x="502" y="321" width="1" height="39" fill="#ff0000"/>
<rect x="501" y="335" width="3" height="21" fill="#ff0000"/>
<rect x="502" y="336" width="1" height="19" fill="#ff4500"/>
<rect x="506" y="334" width="1" height="33" fill="#32cd32"/>
<rect x="505" y="335" width="3" height="27" fill="#32cd32"/>
<rect x="510" y="349" width="1" height="50" fill="#32cd32"/>
<rect x="509" y="360" width="3" height="33" fill="#32cd32"/>
<rect x="514" y="390" width="1" height="33" fill="#32cd32"/>
<rect x="513" y="391" width="3" height="27" fill="#32cd32"/>
<rect x="518" y="407" width="1" height="11" fill="#ff0000"/>
<rect x="517" y="415" width="3" height="3" fill="#ff0000"/>
<rect x="518" y="416" width="1" height="1" fill="#ff4500"/>
<rect x="522" y="419" width="1" height="24" fill="#32cd32"/>
<rect x="521" y="421" width="3" height="20" fill="#32cd32"/>
<rect x="526" y="421" width="1" height="24" fill="#ff0000"/>
<rect x="525" y="436" width="3" height="5" fill="#ff0000"/>
<rect x="526" y="437" width="1" height="3" fill="#ff4500"/>
<rect x="530" y="418" width="1" height="41" fill="#ff0000"/>
<rect x="529" y="431" width="3" height="7" fill="#ff0000"/>
<rect x="530" y="432" width="1" height="5" fill="#ff4500"/>
<rect x="534" y="407" width="1" height="29" fill="#ff0000"/>
<rect x="533" y="412" width="3" height="20" fill="#ff0000"/>
<rect x="534" y="413" width="1" height="18" fill="#ff4500"/>
<rect x="538" y="387" width="1" height="57" fill="#32cd32"/>
<rect x="537" y="412" width="3" height="16" fill="#32cd32"/>
<rect x="542" y="421" width="1" height="10" fill="#32cd32"/>
<rect x="541" y="426" width="3" height="4" fill="#32cd32"/>
<rect x="546" y="417" width="1" height="31" fill="#32cd32"/>
<rect x="545" y="425" width="3" height="22" fill="#32cd32"/>
<rect x="550" y="441" width="1" height="33" fill="#32cd32"/>
<rect x="549" y="445" width="3" height="6" fill="#32cd32"/>
<rect x="554" y="422" width="1" height="36" fill="#ff0000"/>
<rect x="553" y="438" width="3" height="14" fill="#ff0000"/>
<rect x="554" y="439" width="1" height="12" fill="#ff4500"/>
<rect x="558" y="413" width="1" height="45" fill="#32cd32"/>
<rect x="557" y="437" width="3" height="20" fill="#32cd32"/>
<rect x="562" y="435" width="1" height="32" fill="#ff0000"/>
<rect x="561" y="445" width="3" height="12" fill="#ff0000"/>
<rect x="562" y="446" width="1" height="10" fill="#ff4500"/>
<rect x="566" y="436" width="1" height="16" fill="#32cd32"/>
<rect x="565" y="445" width="3" height="6" fill="#32cd32"/>
<rect x="570" y="439" width="1" height="18" fill="#ff0000"/>
<rect x="569" y="441" width="3" height="5" fill="#ff0000"/>
<rect x="570" y="442" width="1" height="3" fill="#ff4500"/>
<rect x="574" y="441" width="1" height="26" fill="#32cd32"/>
<rect x="573" y="441" width="3" height="7" fill="#32cd32"/>
<rect x="578" y="422" width="1" height="38" fill="#ff0000"/>
<rect x="577" y="428" width="3" height="19" fill="#ff0000"/>
<rect x="578" y="429" width="1" height="17" fill="#ff4500"/>
<rect x="582" y="414" width="1" height="41" fill="#32cd32"/>
<rect x="581" y="428" width="3" height="18" fill="#32cd32"/>
<rect x="586" y="424" width="1" height="28" fill="#ff0000"/>
<rect x="585" y="438" width="3" height="8" fill="#ff0000"/>
<rect x="586" y="439" width="1" height="6" fill="#ff4500"/>
<rect x="590" y="437" width="1" height="10" fill="#32cd32"/>
<rect x="589" y="438" width="3" height="6" fill="#32cd32"/>
<rect x="594" y="438" width="1" height="14" fill="#32cd32"/>
<rect x="593" y="444" width="3" height="5" fill="#32cd32"/>
<rect x="598" y="446" width="1" height="31" fill="#32cd32"/>
<rect x="597" y="448" width="3" height="17" fill="#32cd32"/>
<rect x="602" y="437" width="1" height="29" fill="#ff0000"/>
<rect x="601" y="456" width="3" height="9" fill="#ff0000"/>
<rect x="602" y="457" width="1" height="7" fill="#ff4500"/>
<rect x="606" y="424" width="1" height="43" fill="#ff0000"/>
<rect x="605" y="425" width="3" height="32" fill="#ff0000"/>
<rect x="606" y="426" width="1" height="30" fill="#ff4500"/>
<rect x="610" y="418" width="1" height="30" fill="#32cd32"/>
<rect x="609" y="425" width="3" height="15" fill="#32cd32"/>
<rect x="614" y="438" width="1" height="9" fill="#32cd32"/>
<rect x="613" y="438" width="3" height="7" fill="#32cd32"/>
<rect x="618" y="430" width="1" height="22" fill="#32cd32"/>
<rect x="617" y="443" width="3" height="9" fill="#32cd32"/>
<rect x="622" y="432" width="1" height="22" fill="#ff0000"/>
<rect x="621" y="432" width="3" height="19" fill="#ff0000"/>
<rect x="622" y="433" width="1" height="17" fill="#ff4500"/>
<rect x="626" y="425" width="1" height="29" fill="#ff0000"/>
<rect x="625" y="432" width="3" height="3" fill="#ff0000"/>
<rect x="626" y="433" width="1" height="1" fill="#ff4500"/>
<rect x="630" y="422" width="1" height="26" fill="#32cd32"/>
<rect x="629" y="432" width="3" height="5" fill="#32cd32"/>
<rect x="634" y="405" width="1" height="39" fill="#ff0000"/>
<rect x="633" y="405" width="3" height="32" fill="#ff0000"/>
<rect x="634" y="406" width="1" height="30" fill="#ff4500"/>
<rect x="638" y="398" width="1" height="11" fill="#ff0000"/>
<rect x="637" y="403" width="3" height="4" fill="#ff0000"/>
<rect x="638" y="404" width="1" height="2" fill="#ff4500"/>
<rect x="642" y="401" width="1" height="21" fill="#32cd32"/>
<rect x="641" y="407" width="3" height="12" fill="#32cd32"/>
<rect x="646" y="385" width="1" height="37" fill="#ff0000"/>
<rect x="645" y="387" width="3" height="32" fill="#ff0000"/>
<rect x="646" y="388" width="1" height="30" fill="#ff4500"/>
<rect x="650" y="387" width="1" height="19" fill="#32cd32"/>
<rect x="649" y="387" width="3" height="19" fill="#32cd32"/>
<rect x="654" y="318" width="1" height="92" fill="#ff0000"/>
<rect x="653" y="319" width="3" height="87" fill="#ff0000"/>
<rect x="654" y="320" width="1" height="85" fill="#ff4500"/>
<rect x="658" y="262" width="1" height="66" fill="#ff0000"/>
<rect x="657" y="281" width="3" height="40" fill="#ff0000"/>
<rect x="658" y="282" width="1" height="38" fill="#ff4500"/>
<rect x="662" y="280" width="1" height="13" fill="#32cd32"/>
<rect x="661" y="281" width="3" height="8" fill="#32cd32"/>
<rect x="666" y="259" width="1" height="57" fill="#32cd32"/>
<rect x="665" y="278" width="3" height="36" fill="#32cd32"/>
<rect x="670" y="297" width="1" height="24" fill="#32cd32"/>
<rect x="669" y="312" width="3" height="4" fill="#32cd32"/>
<rect x="674" y="314" width="1" height="53" fill="#32cd32"/>
<rect x="673" y="314" width="3" height="37" fill="#32cd32"/>
<rect x="678" y="325" width="1" height="28" fill="#ff0000"/>
<rect x="677" y="326" width="3" height="25" fill="#ff0000"/>
<rect x="678" y="327" width="1" height="23" fill="#ff4500"/>
<rect x="682" y="326" width="1" height="32" fill="#32cd32"/>
<rect x="681" y="326" width="3" height="22" fill="#32cd32"/>
<rect x="686" y="339" width="1" height="10" fill="#ff0000"/>
<rect x="685" y="340" width="3" height="8" fill="#ff0000"/>
<rect x="686" y="341" width="1" height="6" fill="#ff4500"/>
<rect x="690" y="322" width="1" height="29" fill="#ff0000"/>
<rect x="689" y="332" width="3" height="15" fill="#ff0000"/>
<rect x="690" y="333" width="1" height="13" fill="#ff4500"/>
<rect x="694" y="299" width="1" height="35" fill="#ff0000"/>
<rect x="693" y="308" width="3" height="25" fill="#ff0000"/>
<rect x="694" y="309" width="1" height="23" fill="#ff4500"/>
<rect x="698" y="288" width="1" height="31" fill="#ff0000"/>
<rect x="697" y="296" width="3" height="14" fill="#ff0000"/>
<rect x="698" y="297" width="1" height="12" fill="#ff4500"/>
<rect x="702" y="286" width="1" height="30" fill="#ff0000"/>
<rect x="701" y="296" width="3" height="3" fill="#ff0000"/>
<rect x="702" y="297" width="1" height="1" fill="#ff4500"/>
<rect x="706" y="276" width="1" height="50" fill="#32cd32"/>
<rect x="705" y="296" width="3" height="29" fill="#32cd32"/>
<rect x="710" y="320" width="1" height="21" fill="#32cd32"/>
<rect x="709" y="323" width="3" height="14" fill="#32cd32"/>
<rect x="714" y="311" width="1" height="23" fill="#ff0000"/>
<rect x="713" y="330" width="3" height="3" fill="#ff0000"/>
<rect x="714" y="331" width="1" height="1" fill="#ff4500"/>
<rect x="718" y="256" width="1" height="88" fill="#ff0000"/>
<rect x="717" y="269" width="3" height="63" fill="#ff0000"/>
<rect x="718" y="270" width="1" height="61" fill="#ff4500"/>
<rect x="722" y="245" width="1" height="45" fill="#ff0000"/>
<rect x="721" y="250" width="3" height="21" fill="#ff0000"/>
<rect x="722" y="251" width="1" height="19" fill="#ff4500"/>
<rect x="726" y="213" width="1" height="66" fill="#ff0000"/>
<rect x="725" y="238" width="3" height="13" fill="#ff0000"/>
<rect x="726" y="239" width="1" height="11" fill="#ff4500"/>
<rect x="730" y="228" width="1" height="43" fill="#32cd32"/>
<rect x="729" y="238" width="3" height="28" fill="#32cd32"/>
<rect x="734" y="261" width="1" height="16" fill="#32cd32"/>
<rect x="733" y="264" width="3" height="12" fill="#32cd32"/>
<rect x="738" y="247" width="1" height="33" fill="#ff0000"/>
<rect x="737" y="274" width="3" height="3" fill="#ff0000"/>
<rect x="738" y="275" width="1" height="1" fill="#ff4500"/>
<rect x="742" y="237" width="1" height="44" fill="#ff0000"/>
<rect x="741" y="249" width="3" height="25" fill="#ff0000"/>
<rect x="742" y="250" width="1" height="23" fill="#ff4500"/>
<rect x="746" y="242" width="1" height="47" fill="#ff0000"/>
<rect x="745" y="243" width="3" height="7" fill="#ff0000"/>
<rect x="746" y="244" width="1" height="5" fill="#ff4500"/>
<rect x="750" y="215" width="1" height="43" fill="#ff0000"/>
<rect x="749" y="216" width="3" height="29" fill="#ff0000"/>
<rect x="750" y="217" width="1" height="27" fill="#ff4500"/>
<rect x="754" y="203" width="1" height="25" fill="#ff0000"/>
<rect x="753" y="215" width="3" height="4" fill="#ff0000"/>
<rect x="754" y="216" width="1" height="2" fill="#ff4500"/>
<rect x="758" y="205" width="1" height="16" fill="#ff0000"/>
<rect x="757" y="206" width="3" height="10" fill="#ff0000"/>
<rect x="758" y="207" width="1" height="8" fill="#ff4500"/>
<rect x="762" y="116" width="1" height="89" fill="#ff0000"/>
<rect x="761" y="140" width="3" height="60" fill="#ff0000"/>
<rect x="762" y="141" width="1" height="58" fill="#ff4500"/>
<rect x="766" y="125" width="1" height="31" fill="#32cd32"/>
<rect x="765" y="140" width="3" height="14" fill="#32cd32"/>
<rect x="770" y="150" width="1" height="94" fill="#32cd32"/>
<rect x="769" y="153" width="3" height="83" fill="#32cd32"/>
<rect x="774" y="211" width="1" height="31" fill="#ff0000"/>
<rect x="773" y="218" width="3" height="19" fill="#ff0000"/>
<rect x="774" y="219" width="1" height="17" fill="#ff4500"/>
<rect x="778" y="205" width="1" height="27" fill="#ff0000"/>
<rect x="777" y="217" width="3" height="3" fill="#ff0000"/>
<rect x="778" y="218" width="1" height="1" fill="#ff4500"/>
<rect x="782" y="217" width="1" height="6" fill="#32cd32"/>
<rect x="781" y="217" width="3" height="6" fill="#32cd32"/>
<rect x="786" y="213" width="1" height="29" fill="#32cd32"/>
<rect x="785" y="223" width="3" height="15" fill="#32cd32"/>
<rect x="790" y="211" width="1" height="28" fill="#ff0000"/>
<rect x="789" y="216" width="3" height="22" fill="#ff0000"/>
<rect x="790" y="217" width="1" height="20" fill="#ff4500"/>
<rect x="794" y="207" width="1" height="24" fill="#32cd32"/>
<rect x="793" y="216" width="3" height="11" fill="#32cd32"/>
<rect x="798" y="207" width="1" height="78" fill="#32cd32"/>
<rect x="797" y="225" width="3" height="57" fill="#32cd32"/>
<rect x="802" y="259" width="1" height="31" fill="#ff0000"/>
<rect x="801" y="269" width="3" height="13" fill="#ff0000"/>
<rect x="802" y="270" width="1" height="11" fill="#ff4500"/>
<rect x="806" y="257" width="1" height="14" fill="#ff0000"/>
<rect x="805" y="263" width="3" height="8" fill="#ff0000"/>
<rect x="806" y="264" width="1" height="6" fill="#ff4500"/>
<rect x="810" y="252" width="1" height="25" fill="#ff0000"/>
<rect x="809" y="253" width="3" height="16" fill="#ff0000"/>
<rect x="810" y="254" width="1" height="14" fill="#ff4500"/>
<rect x="814" y="220" width="1" height="40" fill="#ff0000"/>
<rect x="813" y="230" width="3" height="25" fill="#ff0000"/>
<rect x="814" y="231" width="1" height="23" fill="#ff4500"/>
<rect x="818" y="226" width="1" height="23" fill="#ff0000"/>
<rect x="817" y="230" width="3" height="3" fill="#ff0000"/>
<rect x="818" y="231" width="1" height="1" fill="#ff4500"/>
<rect x="822" y="229" width="1" height="38" fill="#32cd32"/>
<rect x="821" y="231" width="3" height="31" fill="#32cd32"/>
<rect x="826" y="217" width="1" height="45" fill="#ff0000"/>
<rect x="825" y="225" width="3" height="37" fill="#ff0000"/>
<rect x="826" y="226" width="1" height="35" fill="#ff4500"/>
<rect x="830" y="223" width="1" height="10" fill="#32cd32"/>
<rect x="829" y="225" width="3" height="4" fill="#32cd32"/>
<rect x="834" y="214" width="1" height="28" fill="#ff0000"/>
<rect x="833" y="221" width="3" height="2" fill="#ff0000"/>
<rect x="838" y="214" width="1" height="32" fill="#32cd32"/>
<rect x="837" y="221" width="3" height="20" fill="#32cd32"/>
<rect x="842" y="232" width="1" height="28" fill="#32cd32"/>
<rect x="841" y="239" width="3" height="10" fill="#32cd32"/>
<rect x="846" y="240" width="1" height="20" fill="#ff0000"/>
<rect x="845" y="244" width="3" height="5" fill="#ff0000"/>
<rect x="846" y="245" width="1" height="3" fill="#ff4500"/>
<rect x="850" y="239" width="1" height="16" fill="#32cd32"/>
<rect x="849" y="244" width="3" height="6" fill="#32cd32"/>
<rect x="854" y="244" width="1" height="8" fill="#ff0000"/>
<rect x="853" y="246" width="3" height="3" fill="#ff0000"/>
<rect x="854" y="247" width="1" height="1" fill="#ff4500"/>
<rect x="858" y="216" width="1" height="34" fill="#ff0000"/>
<rect x="857" y="222" width="3" height="27" fill="#ff0000"/>
<rect x="858" y="223" width="1" height="25" fill="#ff4500"/>
<rect x="862" y="193" width="1" height="33" fill="#ff0000"/>
<rect x="861" y="198" width="3" height="27" fill="#ff0000"/>
<rect x="862" y="199" width="1" height="25" fill="#ff4500"/>
<rect x="866" y="187" width="1" height="24" fill="#ff0000"/>
<rect x="865" y="191" width="3" height="9" fill="#ff0000"/>
<rect x="866" y="192" width="1" height="7" fill="#ff4500"/>
<rect x="870" y="111" width="1" height="94" fill="#ff0000"/>
<rect x="869" y="122" width="3" height="71" fill="#ff0000"/>
<rect x="870" y="123" width="1" height="69" fill="#ff4500"/>
<rect x="874" y="52" width="1" height="74" fill="#ff0000"/>
<rect x="873" y="96" width="3" height="28" fill="#ff0000"/>
<rect x="874" y="97" width="1" height="26" fill="#ff4500"/>
<rect x="878" y="95" width="1" height="9" fill="#32cd32"/>
<rect x="877" y="95" width="3" height="4" fill="#32cd32"/>
<rect x="882" y="106" width="1" height="76" fill="#32cd32"/>
<rect x="881" y="106" width="3" height="74" fill="#32cd32"/>
<rect x="886" y="176" width="1" height="44" fill="#32cd32"/>
<rect x="885" y="177" width="3" height="27" fill="#32cd32"/>
<rect x="890" y="189" width="1" height="28" fill="#ff0000"/>
<rect x="889" y="198" width="3" height="6" fill="#ff0000"/>
<rect x="890" y="199" width="1" height="4" fill="#ff4500"/>
<rect x="894" y="184" width="1" height="32" fill="#ff0000"/>
<rect x="893" y="184" width="3" height="15" fill="#ff0000"/>
<rect x="894" y="185" width="1" height="13" fill="#ff4500"/>
<rect x="898" y="160" width="1" height="45" fill="#32cd32"/>
<rect x="897" y="185" width="3" height="20" fill="#32cd32"/>
<rect x="902" y="199" width="1" height="8" fill="#ff0000"/>
<rect x="901" y="200" width="3" height="5" fill="#ff0000"/>
<rect x="902" y="201" width="1" height="3" fill="#ff4500"/>
<rect x="906" y="193" width="1" height="30" fill="#32cd32"/>
<rect x="905" y="202" width="3" height="6" fill="#32cd32"/>
<rect x="910" y="185" width="1" height="39" fill="#ff0000"/>
<rect x="909" y="196" width="3" height="12" fill="#ff0000"/>
<rect x="910" y="197" width="1" height="10" fill="#ff4500"/>
<rect x="914" y="192" width="1" height="28" fill="#32cd32"/>
<rect x="913" y="196" width="3" height="8" fill="#32cd32"/>
<rect x="918" y="192" width="1" height="40" fill="#32cd32"/>
<rect x="917" y="202" width="3" height="25" fill="#32cd32"/>
<rect x="922" y="224" width="1" height="34" fill="#32cd32"/>
<rect x="921" y="226" width="3" height="19" fill="#32cd32"/>
<rect x="926" y="241" width="1" height="13" fill="#32cd32"/>
<rect x="925" y="243" width="3" height="6" fill="#32cd32"/>
</g>
<path d="M9 37 L12.5 32.5 L16 37 Z" fill="#000"/>
<text x="21.3" y="38.4" font-size="10.2" fill="#000" textLength="65.5" lengthAdjust="spacingAndGlyphs" class="b">USDCAD,Daily</text>
<text x="93.5" y="38.4" font-size="10.2" fill="#000" textLength="141.3" lengthAdjust="spacingAndGlyphs" class="b">1.25234 1.25264 1.25024 1.25129</text>
<g shape-rendering="crispEdges">
<rect x="7" y="44" width="223" height="61" fill="#fff"/>
<rect x="9" y="46" width="52" height="25" fill="#0000b4"/>
<rect x="9" y="70" width="109" height="33" fill="#0000b4"/>
<rect x="176" y="46" width="52" height="25" fill="#0000b4"/>
<rect x="120" y="70" width="108" height="33" fill="#0000b4"/>
<rect x="10" y="47" width="50" height="24" fill="url(#gb)"/>
<rect x="10" y="71" width="107" height="31" fill="url(#gb)"/>
<rect x="177" y="47" width="50" height="24" fill="url(#gb)"/>
<rect x="121" y="71" width="106" height="31" fill="url(#gb)"/>
<rect x="13" y="69" width="44" height="1" fill="#0000a0"/>
<rect x="13" y="70" width="44" height="1" fill="#8080ff"/>
<rect x="180" y="69" width="44" height="1" fill="#0000a0"/>
<rect x="180" y="70" width="44" height="1" fill="#8080ff"/>
<rect x="63" y="46" width="111" height="22" fill="#a8aab0"/>
<rect x="64" y="47" width="109" height="20" fill="#fff"/>
<rect x="65" y="48" width="18" height="18" fill="url(#gs)"/>
<rect x="84" y="47" width="1" height="20" fill="#a8aab0"/>
<rect x="154" y="48" width="18" height="18" fill="url(#gs)"/>
<rect x="152" y="47" width="1" height="20" fill="#a8aab0"/>
</g>
<path d="M71 55 L76 55 L73.5 58 Z" fill="#3858c0"/>
<path d="M160 58 L165 58 L162.5 55 Z" fill="#3858c0"/>
<text x="21.5" y="61.6" font-size="11" fill="#fff" textLength="25.5" lengthAdjust="spacingAndGlyphs">SELL</text>
<text x="190" y="61.6" font-size="11" fill="#fff" textLength="22.7" lengthAdjust="spacingAndGlyphs">BUY</text>
<text x="125.4" y="60.8" font-size="12" fill="#000" textLength="23" lengthAdjust="spacingAndGlyphs">3.00</text>
<text x="29.6" y="97.5" font-size="11" fill="#fff" textLength="23.2" lengthAdjust="spacingAndGlyphs" font-weight="bold">1.25</text>
<text x="139.6" y="97.5" font-size="11" fill="#fff" textLength="23.2" lengthAdjust="spacingAndGlyphs" font-weight="bold">1.25</text>
<path transform="translate(0,0)" d="M64.2,74.1 H67.5 V96 H72.6 V98 H58.8 V96 H64.2 V78.3 H58.8 V76 L62.6,75.8 L64.2,74.1 Z" fill="#fff"/>
<path transform="translate(111,0)" d="M64.2,74.1 H67.5 V96 H72.6 V98 H58.8 V96 H64.2 V78.3 H58.8 V76 L62.6,75.8 L64.2,74.1 Z" fill="#fff"/>
<text transform="translate(74.5,98) scale(0.91,1)" font-size="33" fill="#fff">3</text>
<text x="184.7" y="98" font-size="33" fill="#fff">4</text>
<text x="96.2" y="81.8" font-size="11.8" fill="#fff" font-weight="bold">2</text>
<text x="206.8" y="81.8" font-size="11.8" fill="#fff" textLength="7.2" lengthAdjust="spacingAndGlyphs" font-weight="bold">7</text>
<g shape-rendering="crispEdges">
<rect x="1169" y="54" width="2" height="1" fill="#000"/>
<rect x="1169" y="120" width="2" height="1" fill="#000"/>
<rect x="1169" y="153" width="2" height="1" fill="#000"/>
<rect x="1169" y="186" width="2" height="1" fill="#000"/>
<rect x="1169" y="219" width="2" height="1" fill="#000"/>
<rect x="1169" y="285" width="2" height="1" fill="#000"/>
<rect x="1169" y="318" width="2" height="1" fill="#000"/>
<rect x="1169" y="351" width="2" height="1" fill="#000"/>
<rect x="1169" y="385" width="2" height="1" fill="#000"/>
<rect x="1169" y="418" width="2" height="1" fill="#000"/>
<rect x="1169" y="483" width="2" height="1" fill="#000"/>
</g>
<text x="1174.6" y="57.8" font-size="10.2" fill="#000" textLength="32" lengthAdjust="spacingAndGlyphs" class="b">1.29440</text>
<text x="1174.6" y="123.8" font-size="10.2" fill="#000" textLength="32" lengthAdjust="spacingAndGlyphs" class="b">1.27960</text>
<text x="1174.6" y="156.8" font-size="10.2" fill="#000" textLength="32" lengthAdjust="spacingAndGlyphs" class="b">1.27240</text>
<text x="1174.6" y="189.8" font-size="10.2" fill="#000" textLength="32" lengthAdjust="spacingAndGlyphs" class="b">1.26500</text>
<text x="1174.6" y="222.8" font-size="10.2" fill="#000" textLength="32" lengthAdjust="spacingAndGlyphs" class="b">1.25760</text>
<text x="1174.6" y="288.8" font-size="10.2" fill="#000" textLength="32" lengthAdjust="spacingAndGlyphs" class="b">1.24280</text>
<text x="1174.6" y="321.8" font-size="10.2" fill="#000" textLength="32" lengthAdjust="spacingAndGlyphs" class="b">1.23560</text>
<text x="1174.6" y="354.8" font-size="10.2" fill="#000" textLength="32" lengthAdjust="spacingAndGlyphs" class="b">1.22820</text>
<text x="1174.6" y="388.8" font-size="10.2" fill="#000" textLength="32" lengthAdjust="spacingAndGlyphs" class="b">1.22080</text>
<text x="1174.6" y="421.8" font-size="10.2" fill="#000" textLength="32" lengthAdjust="spacingAndGlyphs" class="b">1.21340</text>
<text x="1174.6" y="486.8" font-size="10.2" fill="#000" textLength="32" lengthAdjust="spacingAndGlyphs" class="b">1.19880</text>
<g shape-rendering="crispEdges">
<rect x="1170" y="81" width="40" height="11" fill="#ff0000"/>
<rect x="1170" y="171" width="40" height="11" fill="#00ff00"/>
<rect x="1170" y="242" width="40" height="5" fill="#000"/>
<rect x="1170" y="247" width="40" height="11" fill="#0000ff"/>
<rect x="1170" y="337" width="40" height="11" fill="#0000ff"/>
<rect x="1170" y="444" width="40" height="11" fill="#0000ff"/>
</g>
<clipPath id="cb"><rect x="1170" y="242" width="40" height="5"/></clipPath>
<text x="1174.6" y="251.7" font-size="10.2" fill="#fff" textLength="32" lengthAdjust="spacingAndGlyphs" clip-path="url(#cb)">1.25129</text>
<text x="1174.6" y="90" font-size="10.2" fill="#fff" textLength="32" lengthAdjust="spacingAndGlyphs">1.28700</text>
<text x="1174.6" y="180" font-size="10.2" fill="#fff" textLength="32" lengthAdjust="spacingAndGlyphs">1.26700</text>
<text x="1174.6" y="256" font-size="10.2" fill="#fff" textLength="32" lengthAdjust="spacingAndGlyphs">1.25003</text>
<text x="1174.6" y="346" font-size="10.2" fill="#fff" textLength="32" lengthAdjust="spacingAndGlyphs">1.23003</text>
<text x="1174.6" y="453" font-size="10.2" fill="#fff" textLength="32" lengthAdjust="spacingAndGlyphs">1.20609</text>
<g shape-rendering="crispEdges">
<rect x="5" y="530" width="3" height="30" fill="#c0c0c0"/>
<rect x="9" y="530" width="3" height="30" fill="#c0c0c0"/>
<rect x="13" y="530" width="3" height="33" fill="#c0c0c0"/>
<rect x="17" y="530" width="3" height="33" fill="#c0c0c0"/>
<rect x="21" y="530" width="3" height="32" fill="#c0c0c0"/>
<rect x="25" y="530" width="3" height="32" fill="#c0c0c0"/>
<rect x="29" y="530" width="3" height="32" fill="#c0c0c0"/>
<rect x="33" y="530" width="3" height="30" fill="#c0c0c0"/>
<rect x="37" y="530" width="3" height="30" fill="#c0c0c0"/>
<rect x="41" y="530" width="3" height="29" fill="#c0c0c0"/>
<rect x="45" y="530" width="3" height="26" fill="#c0c0c0"/>
<rect x="49" y="530" width="3" height="22" fill="#c0c0c0"/>
<rect x="53" y="530" width="3" height="17" fill="#c0c0c0"/>
<rect x="57" y="530" width="3" height="15" fill="#c0c0c0"/>
<rect x="61" y="530" width="3" height="13" fill="#c0c0c0"/>
<rect x="65" y="530" width="3" height="11" fill="#c0c0c0"/>
<rect x="69" y="530" width="3" height="10" fill="#c0c0c0"/>
<rect x="73" y="530" width="3" height="10" fill="#c0c0c0"/>
<rect x="77" y="530" width="3" height="12" fill="#c0c0c0"/>
<rect x="81" y="530" width="3" height="13" fill="#c0c0c0"/>
<rect x="85" y="530" width="3" height="14" fill="#c0c0c0"/>
<rect x="89" y="530" width="3" height="15" fill="#c0c0c0"/>
<rect x="93" y="530" width="3" height="16" fill="#c0c0c0"/>
<rect x="97" y="530" width="3" height="17" fill="#c0c0c0"/>
<rect x="101" y="530" width="3" height="17" fill="#c0c0c0"/>
<rect x="105" y="530" width="3" height="17" fill="#c0c0c0"/>
<rect x="109" y="530" width="3" height="17" fill="#c0c0c0"/>
<rect x="113" y="530" width="3" height="15" fill="#c0c0c0"/>
<rect x="117" y="530" width="3" height="14" fill="#c0c0c0"/>
<rect x="121" y="530" width="3" height="14" fill="#c0c0c0"/>
<rect x="125" y="530" width="3" height="15" fill="#c0c0c0"/>
<rect x="129" y="530" width="3" height="14" fill="#c0c0c0"/>
<rect x="133" y="530" width="3" height="13" fill="#c0c0c0"/>
<rect x="137" y="530" width="3" height="11" fill="#c0c0c0"/>
<rect x="141" y="530" width="3" height="11" fill="#c0c0c0"/>
<rect x="145" y="530" width="3" height="13" fill="#c0c0c0"/>
<rect x="149" y="530" width="3" height="14" fill="#c0c0c0"/>
<rect x="153" y="530" width="3" height="13" fill="#c0c0c0"/>
<rect x="157" y="530" width="3" height="11" fill="#c0c0c0"/>
<rect x="161" y="530" width="3" height="10" fill="#c0c0c0"/>
<rect x="165" y="530" width="3" height="9" fill="#c0c0c0"/>
<rect x="169" y="530" width="3" height="7" fill="#c0c0c0"/>
<rect x="173" y="530" width="3" height="4" fill="#c0c0c0"/>
<rect x="177" y="530" width="3" height="2" fill="#c0c0c0"/>
<rect x="181" y="530" width="3" height="1" fill="#c0c0c0"/>
<rect x="185" y="528" width="3" height="2" fill="#c0c0c0"/>
<rect x="189" y="526" width="3" height="4" fill="#c0c0c0"/>
<rect x="193" y="526" width="3" height="4" fill="#c0c0c0"/>
<rect x="197" y="524" width="3" height="6" fill="#c0c0c0"/>
<rect x="201" y="525" width="3" height="5" fill="#c0c0c0"/>
<rect x="205" y="526" width="3" height="4" fill="#c0c0c0"/>
<rect x="209" y="528" width="3" height="2" fill="#c0c0c0"/>
<rect x="213" y="530" width="3" height="1" fill="#c0c0c0"/>
<rect x="217" y="530" width="3" height="2" fill="#c0c0c0"/>
<rect x="221" y="530" width="3" height="4" fill="#c0c0c0"/>
<rect x="225" y="530" width="3" height="5" fill="#c0c0c0"/>
<rect x="229" y="530" width="3" height="6" fill="#c0c0c0"/>
<rect x="233" y="530" width="3" height="8" fill="#c0c0c0"/>
<rect x="237" y="530" width="3" height="8" fill="#c0c0c0"/>
<rect x="241" y="530" width="3" height="7" fill="#c0c0c0"/>
<rect x="245" y="530" width="3" height="7" fill="#c0c0c0"/>
<rect x="249" y="530" width="3" height="9" fill="#c0c0c0"/>
<rect x="253" y="530" width="3" height="10" fill="#c0c0c0"/>
<rect x="257" y="530" width="3" height="12" fill="#c0c0c0"/>
<rect x="261" y="530" width="3" height="13" fill="#c0c0c0"/>
<rect x="265" y="530" width="3" height="15" fill="#c0c0c0"/>
<rect x="269" y="530" width="3" height="18" fill="#c0c0c0"/>
<rect x="273" y="530" width="3" height="16" fill="#c0c0c0"/>
<rect x="277" y="530" width="3" height="13" fill="#c0c0c0"/>
<rect x="281" y="530" width="3" height="11" fill="#c0c0c0"/>
<rect x="285" y="530" width="3" height="11" fill="#c0c0c0"/>
<rect x="289" y="530" width="3" height="11" fill="#c0c0c0"/>
<rect x="293" y="530" width="3" height="10" fill="#c0c0c0"/>
<rect x="297" y="530" width="3" height="9" fill="#c0c0c0"/>
<rect x="301" y="530" width="3" height="8" fill="#c0c0c0"/>
<rect x="305" y="530" width="3" height="6" fill="#c0c0c0"/>
<rect x="309" y="530" width="3" height="6" fill="#c0c0c0"/>
<rect x="313" y="530" width="3" height="6" fill="#c0c0c0"/>
<rect x="317" y="530" width="3" height="7" fill="#c0c0c0"/>
<rect x="321" y="530" width="3" height="11" fill="#c0c0c0"/>
<rect x="325" y="530" width="3" height="15" fill="#c0c0c0"/>
<rect x="329" y="530" width="3" height="16" fill="#c0c0c0"/>
<rect x="333" y="530" width="3" height="19" fill="#c0c0c0"/>
<rect x="337" y="530" width="3" height="20" fill="#c0c0c0"/>
<rect x="341" y="530" width="3" height="21" fill="#c0c0c0"/>
<rect x="345" y="530" width="3" height="20" fill="#c0c0c0"/>
<rect x="349" y="530" width="3" height="20" fill="#c0c0c0"/>
<rect x="353" y="530" width="3" height="18" fill="#c0c0c0"/>
<rect x="357" y="530" width="3" height="16" fill="#c0c0c0"/>
<rect x="361" y="530" width="3" height="14" fill="#c0c0c0"/>
<rect x="365" y="530" width="3" height="11" fill="#c0c0c0"/>
<rect x="369" y="530" width="3" height="9" fill="#c0c0c0"/>
<rect x="373" y="530" width="3" height="7" fill="#c0c0c0"/>
<rect x="377" y="530" width="3" height="5" fill="#c0c0c0"/>
<rect x="381" y="530" width="3" height="3" fill="#c0c0c0"/>
<rect x="385" y="530" width="3" height="3" fill="#c0c0c0"/>
<rect x="389" y="530" width="3" height="3" fill="#c0c0c0"/>
<rect x="393" y="530" width="3" height="3" fill="#c0c0c0"/>
<rect x="397" y="530" width="3" height="3" fill="#c0c0c0"/>
<rect x="401" y="530" width="3" height="3" fill="#c0c0c0"/>
<rect x="405" y="530" width="3" height="3" fill="#c0c0c0"/>
<rect x="409" y="530" width="3" height="3" fill="#c0c0c0"/>
<rect x="413" y="530" width="3" height="3" fill="#c0c0c0"/>
<rect x="417" y="530" width="3" height="3" fill="#c0c0c0"/>
<rect x="421" y="530" width="3" height="4" fill="#c0c0c0"/>
<rect x="425" y="530" width="3" height="4" fill="#c0c0c0"/>
<rect x="429" y="530" width="3" height="4" fill="#c0c0c0"/>
<rect x="433" y="530" width="3" height="5" fill="#c0c0c0"/>
<rect x="437" y="530" width="3" height="5" fill="#c0c0c0"/>
<rect x="441" y="530" width="3" height="6" fill="#c0c0c0"/>
<rect x="445" y="530" width="3" height="6" fill="#c0c0c0"/>
<rect x="449" y="530" width="3" height="6" fill="#c0c0c0"/>
<rect x="453" y="530" width="3" height="6" fill="#c0c0c0"/>
<rect x="457" y="530" width="3" height="6" fill="#c0c0c0"/>
<rect x="461" y="530" width="3" height="6" fill="#c0c0c0"/>
<rect x="465" y="530" width="3" height="7" fill="#c0c0c0"/>
<rect x="469" y="530" width="3" height="8" fill="#c0c0c0"/>
<rect x="473" y="530" width="3" height="10" fill="#c0c0c0"/>
<rect x="477" y="530" width="3" height="12" fill="#c0c0c0"/>
<rect x="481" y="530" width="3" height="15" fill="#c0c0c0"/>
<rect x="485" y="530" width="3" height="19" fill="#c0c0c0"/>
<rect x="489" y="530" width="3" height="21" fill="#c0c0c0"/>
<rect x="493" y="530" width="3" height="24" fill="#c0c0c0"/>
<rect x="497" y="530" width="3" height="25" fill="#c0c0c0"/>
<rect x="501" y="530" width="3" height="25" fill="#c0c0c0"/>
<rect x="505" y="530" width="3" height="26" fill="#c0c0c0"/>
<rect x="509" y="530" width="3" height="29" fill="#c0c0c0"/>
<rect x="513" y="530" width="3" height="32" fill="#c0c0c0"/>
<rect x="517" y="530" width="3" height="34" fill="#c0c0c0"/>
<rect x="521" y="530" width="3" height="37" fill="#c0c0c0"/>
<rect x="525" y="530" width="3" height="38" fill="#c0c0c0"/>
<rect x="529" y="530" width="3" height="39" fill="#c0c0c0"/>
<rect x="533" y="530" width="3" height="38" fill="#c0c0c0"/>
<rect x="537" y="530" width="3" height="37" fill="#c0c0c0"/>
<rect x="541" y="530" width="3" height="35" fill="#c0c0c0"/>
<rect x="545" y="530" width="3" height="35" fill="#c0c0c0"/>
<rect x="549" y="530" width="3" height="35" fill="#c0c0c0"/>
<rect x="553" y="530" width="3" height="35" fill="#c0c0c0"/>
<rect x="557" y="530" width="3" height="34" fill="#c0c0c0"/>
<rect x="561" y="530" width="3" height="34" fill="#c0c0c0"/>
<rect x="565" y="530" width="3" height="33" fill="#c0c0c0"/>
<rect x="569" y="530" width="3" height="31" fill="#c0c0c0"/>
<rect x="573" y="530" width="3" height="30" fill="#c0c0c0"/>
<rect x="577" y="530" width="3" height="27" fill="#c0c0c0"/>
<rect x="581" y="530" width="3" height="26" fill="#c0c0c0"/>
<rect x="585" y="530" width="3" height="24" fill="#c0c0c0"/>
<rect x="589" y="530" width="3" height="23" fill="#c0c0c0"/>
<rect x="593" y="530" width="3" height="22" fill="#c0c0c0"/>
<rect x="597" y="530" width="3" height="22" fill="#c0c0c0"/>
<rect x="601" y="530" width="3" height="21" fill="#c0c0c0"/>
<rect x="605" y="530" width="3" height="18" fill="#c0c0c0"/>
<rect x="609" y="530" width="3" height="17" fill="#c0c0c0"/>
<rect x="613" y="530" width="3" height="16" fill="#c0c0c0"/>
<rect x="617" y="530" width="3" height="15" fill="#c0c0c0"/>
<rect x="621" y="530" width="3" height="14" fill="#c0c0c0"/>
<rect x="625" y="530" width="3" height="12" fill="#c0c0c0"/>
<rect x="629" y="530" width="3" height="11" fill="#c0c0c0"/>
<rect x="633" y="530" width="3" height="8" fill="#c0c0c0"/>
<rect x="637" y="530" width="3" height="6" fill="#c0c0c0"/>
<rect x="641" y="530" width="3" height="5" fill="#c0c0c0"/>
<rect x="645" y="530" width="3" height="2" fill="#c0c0c0"/>
<rect x="649" y="528" width="3" height="2" fill="#c0c0c0"/>
<rect x="653" y="523" width="3" height="7" fill="#c0c0c0"/>
<rect x="657" y="516" width="3" height="14" fill="#c0c0c0"/>
<rect x="661" y="511" width="3" height="19" fill="#c0c0c0"/>
<rect x="665" y="509" width="3" height="21" fill="#c0c0c0"/>
<rect x="669" y="507" width="3" height="23" fill="#c0c0c0"/>
<rect x="673" y="509" width="3" height="21" fill="#c0c0c0"/>
<rect x="677" y="509" width="3" height="21" fill="#c0c0c0"/>
<rect x="681" y="510" width="3" height="20" fill="#c0c0c0"/>
<rect x="685" y="511" width="3" height="19" fill="#c0c0c0"/>
<rect x="689" y="511" width="3" height="19" fill="#c0c0c0"/>
<rect x="693" y="511" width="3" height="19" fill="#c0c0c0"/>
<rect x="697" y="509" width="3" height="21" fill="#c0c0c0"/>
<rect x="701" y="508" width="3" height="22" fill="#c0c0c0"/>
<rect x="705" y="510" width="3" height="20" fill="#c0c0c0"/>
<rect x="709" y="512" width="3" height="18" fill="#c0c0c0"/>
<rect x="713" y="513" width="3" height="17" fill="#c0c0c0"/>
<rect x="717" y="510" width="3" height="20" fill="#c0c0c0"/>
<rect x="721" y="508" width="3" height="22" fill="#c0c0c0"/>
<rect x="725" y="504" width="3" height="26" fill="#c0c0c0"/>
<rect x="729" y="504" width="3" height="26" fill="#c0c0c0"/>
<rect x="733" y="504" width="3" height="26" fill="#c0c0c0"/>
<rect x="737" y="506" width="3" height="24" fill="#c0c0c0"/>
<rect x="741" y="504" width="3" height="26" fill="#c0c0c0"/>
<rect x="745" y="504" width="3" height="26" fill="#c0c0c0"/>
<rect x="749" y="503" width="3" height="27" fill="#c0c0c0"/>
<rect x="753" y="502" width="3" height="28" fill="#c0c0c0"/>
<rect x="757" y="501" width="3" height="29" fill="#c0c0c0"/>
<rect x="761" y="496" width="3" height="34" fill="#c0c0c0"/>
<rect x="765" y="493" width="3" height="37" fill="#c0c0c0"/>
<rect x="769" y="497" width="3" height="33" fill="#c0c0c0"/>
<rect x="773" y="499" width="3" height="31" fill="#c0c0c0"/>
<rect x="777" y="501" width="3" height="29" fill="#c0c0c0"/>
<rect x="781" y="503" width="3" height="27" fill="#c0c0c0"/>
<rect x="785" y="506" width="3" height="24" fill="#c0c0c0"/>
<rect x="789" y="507" width="3" height="23" fill="#c0c0c0"/>
<rect x="793" y="509" width="3" height="21" fill="#c0c0c0"/>
<rect x="797" y="514" width="3" height="16" fill="#c0c0c0"/>
<rect x="801" y="518" width="3" height="12" fill="#c0c0c0"/>
<rect x="805" y="520" width="3" height="10" fill="#c0c0c0"/>
<rect x="809" y="521" width="3" height="9" fill="#c0c0c0"/>
<rect x="813" y="521" width="3" height="9" fill="#c0c0c0"/>
<rect x="817" y="521" width="3" height="9" fill="#c0c0c0"/>
<rect x="821" y="523" width="3" height="7" fill="#c0c0c0"/>
<rect x="825" y="522" width="3" height="8" fill="#c0c0c0"/>
<rect x="829" y="522" width="3" height="8" fill="#c0c0c0"/>
<rect x="833" y="521" width="3" height="9" fill="#c0c0c0"/>
<rect x="837" y="523" width="3" height="7" fill="#c0c0c0"/>
<rect x="841" y="524" width="3" height="6" fill="#c0c0c0"/>
<rect x="845" y="525" width="3" height="5" fill="#c0c0c0"/>
<rect x="849" y="525" width="3" height="5" fill="#c0c0c0"/>
<rect x="853" y="526" width="3" height="4" fill="#c0c0c0"/>
<rect x="857" y="525" width="3" height="5" fill="#c0c0c0"/>
<rect x="861" y="524" width="3" height="6" fill="#c0c0c0"/>
<rect x="865" y="521" width="3" height="9" fill="#c0c0c0"/>
<rect x="869" y="515" width="3" height="15" fill="#c0c0c0"/>
<rect x="873" y="509" width="3" height="21" fill="#c0c0c0"/>
<rect x="877" y="505" width="3" height="25" fill="#c0c0c0"/>
<rect x="881" y="507" width="3" height="23" fill="#c0c0c0"/>
<rect x="885" y="510" width="3" height="20" fill="#c0c0c0"/>
<rect x="889" y="512" width="3" height="18" fill="#c0c0c0"/>
<rect x="893" y="513" width="3" height="17" fill="#c0c0c0"/>
<rect x="897" y="516" width="3" height="14" fill="#c0c0c0"/>
<rect x="901" y="518" width="3" height="12" fill="#c0c0c0"/>
<rect x="905" y="520" width="3" height="10" fill="#c0c0c0"/>
<rect x="909" y="521" width="3" height="9" fill="#c0c0c0"/>
<rect x="913" y="522" width="3" height="8" fill="#c0c0c0"/>
<rect x="917" y="524" width="3" height="6" fill="#c0c0c0"/>
<rect x="921" y="528" width="3" height="2" fill="#c0c0c0"/>
<rect x="925" y="530" width="3" height="1" fill="#c0c0c0"/>
<path d="M773 500h20v1h-20zM769 501h4v1h-4zM793 501h3v1h-3zM765 502h4v1h-4zM796 502h2v1h-2zM761 503h4v1h-4zM798 503h2v1h-2zM757 504h4v1h-4zM800 504h2v1h-2zM753 505h4v1h-4zM802 505h1v1h-1zM749 506h4v1h-4zM803 506h2v1h-2zM745 507h4v1h-4zM805 507h2v1h-2zM737 508h8v1h-8zM807 508h1v1h-1zM701 509h4v1h-4zM727 509h10v1h-10zM808 509h2v1h-2zM690 510h11v1h-11zM705 510h4v1h-4zM721 510h6v1h-6zM810 510h2v1h-2zM688 511h2v1h-2zM709 511h4v1h-4zM717 511h4v1h-4zM812 511h2v1h-2zM686 512h2v1h-2zM713 512h4v1h-4zM814 512h2v1h-2zM897 512h15v1h-15zM684 513h2v1h-2zM816 513h2v1h-2zM893 513h4v1h-4zM912 513h2v1h-2zM682 514h2v1h-2zM818 514h2v1h-2zM890 514h3v1h-3zM914 514h2v1h-2zM680 515h2v1h-2zM820 515h2v1h-2zM888 515h2v1h-2zM916 515h2v1h-2zM679 516h1v1h-1zM822 516h2v1h-2zM886 516h2v1h-2zM918 516h2v1h-2zM677 517h2v1h-2zM824 517h2v1h-2zM884 517h2v1h-2zM920 517h2v1h-2zM675 518h2v1h-2zM826 518h2v1h-2zM881 518h3v1h-3zM922 518h2v1h-2zM674 519h1v1h-1zM828 519h3v1h-3zM879 519h2v1h-2zM924 519h2v1h-2zM673 520h1v1h-1zM831 520h3v1h-3zM877 520h2v1h-2zM926 520h1v1h-1zM671 521h2v1h-2zM834 521h3v1h-3zM874 521h3v1h-3zM670 522h1v1h-1zM837 522h5v1h-5zM872 522h2v1h-2zM669 523h1v1h-1zM842 523h6v1h-6zM869 523h3v1h-3zM667 524h2v1h-2zM848 524h21v1h-21zM666 525h1v1h-1zM665 526h1v1h-1zM664 527h1v1h-1zM207 528h19v1h-19zM663 528h1v1h-1zM203 529h4v1h-4zM226 529h3v1h-3zM661 529h2v1h-2zM199 530h4v1h-4zM229 530h3v1h-3zM660 530h1v1h-1zM197 531h2v1h-2zM232 531h4v1h-4zM659 531h1v1h-1zM194 532h3v1h-3zM236 532h3v1h-3zM411 532h21v1h-21zM658 532h1v1h-1zM192 533h2v1h-2zM239 533h4v1h-4zM403 533h8v1h-8zM432 533h2v1h-2zM656 533h2v1h-2zM189 534h3v1h-3zM243 534h4v1h-4zM398 534h5v1h-5zM434 534h21v1h-21zM654 534h2v1h-2zM186 535h3v1h-3zM247 535h5v1h-5zM396 535h2v1h-2zM455 535h8v1h-8zM652 535h2v1h-2zM183 536h3v1h-3zM252 536h4v1h-4zM394 536h2v1h-2zM463 536h21v1h-21zM650 536h2v1h-2zM180 537h3v1h-3zM256 537h4v1h-4zM392 537h2v1h-2zM484 537h2v1h-2zM648 537h2v1h-2zM176 538h4v1h-4zM260 538h5v1h-5zM316 538h16v1h-16zM389 538h3v1h-3zM486 538h2v1h-2zM646 538h2v1h-2zM170 539h6v1h-6zM265 539h4v1h-4zM311 539h5v1h-5zM332 539h2v1h-2zM386 539h3v1h-3zM488 539h2v1h-2zM644 539h2v1h-2zM164 540h6v1h-6zM269 540h4v1h-4zM306 540h5v1h-5zM334 540h2v1h-2zM383 540h3v1h-3zM490 540h1v1h-1zM641 540h3v1h-3zM158 541h6v1h-6zM273 541h4v1h-4zM301 541h5v1h-5zM336 541h2v1h-2zM380 541h3v1h-3zM491 541h2v1h-2zM639 541h2v1h-2zM91 542h10v1h-10zM141 542h17v1h-17zM277 542h24v1h-24zM338 542h2v1h-2zM378 542h2v1h-2zM493 542h2v1h-2zM637 542h2v1h-2zM81 543h10v1h-10zM101 543h4v1h-4zM137 543h4v1h-4zM340 543h2v1h-2zM376 543h2v1h-2zM495 543h2v1h-2zM634 543h3v1h-3zM79 544h2v1h-2zM105 544h8v1h-8zM127 544h10v1h-10zM342 544h2v1h-2zM374 544h2v1h-2zM497 544h2v1h-2zM632 544h2v1h-2zM76 545h3v1h-3zM113 545h14v1h-14zM344 545h3v1h-3zM372 545h2v1h-2zM499 545h2v1h-2zM629 545h3v1h-3zM74 546h2v1h-2zM347 546h3v1h-3zM370 546h2v1h-2zM501 546h1v1h-1zM626 546h3v1h-3zM72 547h2v1h-2zM350 547h3v1h-3zM368 547h2v1h-2zM502 547h2v1h-2zM622 547h4v1h-4zM70 548h2v1h-2zM353 548h15v1h-15zM504 548h2v1h-2zM619 548h3v1h-3zM69 549h1v1h-1zM506 549h2v1h-2zM616 549h3v1h-3zM67 550h2v1h-2zM508 550h2v1h-2zM612 550h4v1h-4zM6 551h2v1h-2zM65 551h2v1h-2zM510 551h1v1h-1zM609 551h3v1h-3zM8 552h3v1h-3zM63 552h2v1h-2zM511 552h2v1h-2zM606 552h3v1h-3zM11 553h2v1h-2zM62 553h1v1h-1zM513 553h2v1h-2zM603 553h3v1h-3zM13 554h3v1h-3zM60 554h2v1h-2zM515 554h2v1h-2zM601 554h2v1h-2zM16 555h2v1h-2zM58 555h2v1h-2zM517 555h2v1h-2zM598 555h3v1h-3zM18 556h2v1h-2zM56 556h2v1h-2zM519 556h2v1h-2zM595 556h3v1h-3zM20 557h2v1h-2zM54 557h2v1h-2zM521 557h1v1h-1zM592 557h3v1h-3zM22 558h3v1h-3zM52 558h2v1h-2zM522 558h2v1h-2zM589 558h3v1h-3zM25 559h4v1h-4zM49 559h3v1h-3zM524 559h2v1h-2zM586 559h3v1h-3zM29 560h20v1h-20zM526 560h2v1h-2zM582 560h4v1h-4zM528 561h2v1h-2zM579 561h3v1h-3zM530 562h4v1h-4zM576 562h3v1h-3zM534 563h6v1h-6zM572 563h4v1h-4zM540 564h5v1h-5zM568 564h4v1h-4zM545 565h4v1h-4zM563 565h5v1h-5zM549 566h14v1h-14z" fill="#ff0000"/>
<rect x="1169" y="490" width="1" height="1" fill="#000"/>
<rect x="1169" y="530" width="2" height="1" fill="#000"/>
<rect x="1169" y="571" width="1" height="1" fill="#000"/>
<rect x="1169" y="576" width="1" height="1" fill="#000"/>
<rect x="1169" y="660" width="1" height="1" fill="#000"/>
</g>
<text x="10" y="500.5" font-size="10.2" fill="#000" textLength="151" lengthAdjust="spacingAndGlyphs" class="b">MACD(12,26,9) -0.000240 0.002333</text>
<text x="1172.5" y="498.6" font-size="10.2" fill="#000" textLength="32.2" lengthAdjust="spacingAndGlyphs" class="b">0.01135</text>
<text x="1172.5" y="533.6" font-size="10.2" fill="#000" textLength="17.2" lengthAdjust="spacingAndGlyphs" class="b">0.00</text>
<text x="1171.9" y="568.6" font-size="10.2" fill="#000" textLength="41.5" lengthAdjust="spacingAndGlyphs" class="b">-0.011904</text>
<g shape-rendering="crispEdges">
<line x1="7" y1="601.5" x2="1168" y2="601.5" stroke="#c0c0c0" stroke-width="1" stroke-dasharray="3 3"/>
<line x1="7" y1="635.5" x2="1168" y2="635.5" stroke="#c0c0c0" stroke-width="1" stroke-dasharray="3 3"/>
<path d="M762 595h1v1h-1zM761 596h1v1h-1zM763 596h1v1h-1zM761 597h1v1h-1zM764 597h1v1h-1zM874 597h3v1h-3zM658 598h3v1h-3zM760 598h1v1h-1zM765 598h1v1h-1zM872 598h2v1h-2zM877 598h2v1h-2zM657 599h1v1h-1zM661 599h2v1h-2zM760 599h1v1h-1zM766 599h1v1h-1zM870 599h2v1h-2zM878 599h1v1h-1zM656 600h1v1h-1zM663 600h1v1h-1zM759 600h1v1h-1zM766 600h1v1h-1zM870 600h1v1h-1zM878 600h1v1h-1zM655 601h1v1h-1zM663 601h1v1h-1zM759 601h1v1h-1zM767 601h1v1h-1zM869 601h1v1h-1zM879 601h1v1h-1zM654 602h1v1h-1zM664 602h1v1h-1zM726 602h1v1h-1zM750 602h9v1h-9zM767 602h1v1h-1zM869 602h1v1h-1zM879 602h1v1h-1zM654 603h1v1h-1zM665 603h1v1h-1zM724 603h2v1h-2zM727 603h1v1h-1zM749 603h1v1h-1zM767 603h1v1h-1zM868 603h1v1h-1zM879 603h1v1h-1zM653 604h1v1h-1zM665 604h1v1h-1zM721 604h3v1h-3zM728 604h1v1h-1zM747 604h2v1h-2zM767 604h1v1h-1zM868 604h1v1h-1zM879 604h1v1h-1zM653 605h1v1h-1zM666 605h3v1h-3zM718 605h3v1h-3zM728 605h1v1h-1zM745 605h2v1h-2zM768 605h1v1h-1zM867 605h1v1h-1zM880 605h1v1h-1zM653 606h1v1h-1zM669 606h2v1h-2zM698 606h5v1h-5zM718 606h1v1h-1zM729 606h1v1h-1zM742 606h3v1h-3zM768 606h1v1h-1zM867 606h1v1h-1zM880 606h1v1h-1zM652 607h1v1h-1zM671 607h1v1h-1zM696 607h2v1h-2zM703 607h1v1h-1zM717 607h1v1h-1zM730 607h1v1h-1zM741 607h1v1h-1zM768 607h1v1h-1zM866 607h1v1h-1zM880 607h1v1h-1zM652 608h1v1h-1zM671 608h1v1h-1zM694 608h2v1h-2zM703 608h1v1h-1zM717 608h1v1h-1zM731 608h2v1h-2zM740 608h1v1h-1zM768 608h1v1h-1zM866 608h1v1h-1zM880 608h1v1h-1zM652 609h1v1h-1zM672 609h1v1h-1zM693 609h1v1h-1zM704 609h1v1h-1zM716 609h1v1h-1zM733 609h1v1h-1zM739 609h1v1h-1zM769 609h1v1h-1zM864 609h2v1h-2zM881 609h1v1h-1zM646 610h1v1h-1zM652 610h1v1h-1zM672 610h1v1h-1zM678 610h1v1h-1zM691 610h2v1h-2zM705 610h1v1h-1zM716 610h1v1h-1zM734 610h5v1h-5zM769 610h1v1h-1zM862 610h2v1h-2zM881 610h1v1h-1zM645 611h1v1h-1zM647 611h1v1h-1zM651 611h1v1h-1zM673 611h1v1h-1zM677 611h1v1h-1zM679 611h2v1h-2zM689 611h2v1h-2zM705 611h1v1h-1zM715 611h1v1h-1zM769 611h1v1h-1zM777 611h3v1h-3zM861 611h1v1h-1zM881 611h1v1h-1zM186 612h5v1h-5zM645 612h1v1h-1zM648 612h1v1h-1zM651 612h1v1h-1zM673 612h1v1h-1zM675 612h2v1h-2zM681 612h1v1h-1zM685 612h4v1h-4zM706 612h1v1h-1zM715 612h1v1h-1zM769 612h1v1h-1zM774 612h3v1h-3zM780 612h2v1h-2zM859 612h2v1h-2zM881 612h1v1h-1zM184 613h2v1h-2zM191 613h1v1h-1zM382 613h1v1h-1zM637 613h2v1h-2zM644 613h1v1h-1zM648 613h1v1h-1zM651 613h1v1h-1zM674 613h1v1h-1zM682 613h3v1h-3zM707 613h2v1h-2zM714 613h1v1h-1zM770 613h1v1h-1zM772 613h2v1h-2zM782 613h2v1h-2zM790 613h3v1h-3zM858 613h1v1h-1zM882 613h1v1h-1zM54 614h1v1h-1zM174 614h2v1h-2zM182 614h2v1h-2zM192 614h1v1h-1zM198 614h1v1h-1zM366 614h1v1h-1zM381 614h1v1h-1zM383 614h1v1h-1zM410 614h1v1h-1zM634 614h3v1h-3zM639 614h1v1h-1zM644 614h1v1h-1zM649 614h2v1h-2zM709 614h1v1h-1zM713 614h2v1h-2zM770 614h2v1h-2zM784 614h2v1h-2zM788 614h2v1h-2zM793 614h2v1h-2zM814 614h3v1h-3zM829 614h6v1h-6zM857 614h1v1h-1zM882 614h1v1h-1zM53 615h1v1h-1zM55 615h1v1h-1zM172 615h2v1h-2zM176 615h2v1h-2zM180 615h2v1h-2zM193 615h1v1h-1zM196 615h2v1h-2zM199 615h1v1h-1zM365 615h1v1h-1zM367 615h1v1h-1zM379 615h2v1h-2zM383 615h1v1h-1zM409 615h1v1h-1zM411 615h1v1h-1zM633 615h1v1h-1zM640 615h1v1h-1zM643 615h1v1h-1zM650 615h1v1h-1zM710 615h3v1h-3zM786 615h2v1h-2zM794 615h1v1h-1zM813 615h1v1h-1zM817 615h2v1h-2zM826 615h3v1h-3zM835 615h2v1h-2zM856 615h1v1h-1zM883 615h2v1h-2zM893 615h2v1h-2zM52 616h1v1h-1zM55 616h1v1h-1zM170 616h2v1h-2zM178 616h2v1h-2zM194 616h2v1h-2zM200 616h1v1h-1zM278 616h1v1h-1zM365 616h1v1h-1zM368 616h1v1h-1zM374 616h5v1h-5zM384 616h1v1h-1zM409 616h1v1h-1zM412 616h1v1h-1zM454 616h1v1h-1zM633 616h1v1h-1zM641 616h1v1h-1zM643 616h1v1h-1zM795 616h1v1h-1zM812 616h1v1h-1zM819 616h1v1h-1zM825 616h1v1h-1zM837 616h1v1h-1zM856 616h1v1h-1zM885 616h1v1h-1zM889 616h4v1h-4zM895 616h2v1h-2zM910 616h3v1h-3zM52 617h1v1h-1zM56 617h1v1h-1zM169 617h1v1h-1zM201 617h1v1h-1zM277 617h1v1h-1zM279 617h1v1h-1zM298 617h3v1h-3zM364 617h1v1h-1zM369 617h1v1h-1zM372 617h2v1h-2zM385 617h1v1h-1zM408 617h1v1h-1zM413 617h1v1h-1zM453 617h2v1h-2zM632 617h1v1h-1zM642 617h1v1h-1zM795 617h1v1h-1zM812 617h1v1h-1zM820 617h1v1h-1zM824 617h1v1h-1zM838 617h3v1h-3zM855 617h1v1h-1zM886 617h3v1h-3zM897 617h1v1h-1zM901 617h4v1h-4zM908 617h2v1h-2zM913 617h2v1h-2zM51 618h1v1h-1zM57 618h1v1h-1zM70 618h1v1h-1zM114 618h2v1h-2zM162 618h1v1h-1zM168 618h1v1h-1zM202 618h6v1h-6zM276 618h1v1h-1zM280 618h1v1h-1zM297 618h1v1h-1zM301 618h7v1h-7zM363 618h1v1h-1zM370 618h2v1h-2zM385 618h1v1h-1zM408 618h1v1h-1zM414 618h1v1h-1zM452 618h1v1h-1zM455 618h1v1h-1zM632 618h1v1h-1zM796 618h1v1h-1zM811 618h1v1h-1zM821 618h1v1h-1zM823 618h1v1h-1zM841 618h14v1h-14zM898 618h3v1h-3zM905 618h3v1h-3zM915 618h1v1h-1zM50 619h1v1h-1zM57 619h1v1h-1zM68 619h2v1h-2zM71 619h1v1h-1zM113 619h1v1h-1zM116 619h2v1h-2zM130 619h1v1h-1zM160 619h2v1h-2zM163 619h2v1h-2zM168 619h1v1h-1zM208 619h2v1h-2zM242 619h5v1h-5zM275 619h1v1h-1zM281 619h1v1h-1zM297 619h1v1h-1zM308 619h2v1h-2zM363 619h1v1h-1zM386 619h6v1h-6zM398 619h1v1h-1zM407 619h1v1h-1zM415 619h2v1h-2zM426 619h3v1h-3zM452 619h1v1h-1zM455 619h1v1h-1zM631 619h1v1h-1zM796 619h1v1h-1zM809 619h2v1h-2zM822 619h1v1h-1zM916 619h1v1h-1zM49 620h1v1h-1zM58 620h10v1h-10zM72 620h1v1h-1zM113 620h1v1h-1zM118 620h1v1h-1zM130 620h3v1h-3zM138 620h3v1h-3zM157 620h3v1h-3zM165 620h1v1h-1zM167 620h1v1h-1zM210 620h2v1h-2zM241 620h1v1h-1zM246 620h1v1h-1zM274 620h1v1h-1zM282 620h2v1h-2zM296 620h1v1h-1zM310 620h5v1h-5zM358 620h5v1h-5zM392 620h2v1h-2zM396 620h2v1h-2zM399 620h1v1h-1zM407 620h1v1h-1zM417 620h1v1h-1zM425 620h1v1h-1zM429 620h2v1h-2zM451 620h1v1h-1zM456 620h1v1h-1zM631 620h1v1h-1zM797 620h1v1h-1zM802 620h7v1h-7zM916 620h1v1h-1zM49 621h1v1h-1zM72 621h1v1h-1zM112 621h1v1h-1zM119 621h1v1h-1zM129 621h1v1h-1zM133 621h1v1h-1zM136 621h2v1h-2zM141 621h2v1h-2zM154 621h3v1h-3zM166 621h1v1h-1zM212 621h2v1h-2zM240 621h1v1h-1zM247 621h1v1h-1zM274 621h1v1h-1zM284 621h2v1h-2zM295 621h1v1h-1zM315 621h1v1h-1zM357 621h1v1h-1zM394 621h2v1h-2zM400 621h1v1h-1zM406 621h1v1h-1zM418 621h3v1h-3zM423 621h2v1h-2zM431 621h2v1h-2zM438 621h1v1h-1zM450 621h1v1h-1zM456 621h1v1h-1zM606 621h2v1h-2zM625 621h6v1h-6zM797 621h1v1h-1zM800 621h2v1h-2zM917 621h1v1h-1zM48 622h1v1h-1zM73 622h1v1h-1zM112 622h1v1h-1zM120 622h1v1h-1zM129 622h1v1h-1zM134 622h2v1h-2zM143 622h1v1h-1zM153 622h1v1h-1zM214 622h1v1h-1zM240 622h1v1h-1zM247 622h1v1h-1zM273 622h1v1h-1zM286 622h7v1h-7zM295 622h1v1h-1zM315 622h1v1h-1zM355 622h2v1h-2zM400 622h1v1h-1zM405 622h1v1h-1zM421 622h2v1h-2zM433 622h1v1h-1zM436 622h2v1h-2zM439 622h2v1h-2zM448 622h2v1h-2zM457 622h1v1h-1zM606 622h1v1h-1zM608 622h2v1h-2zM622 622h3v1h-3zM798 622h2v1h-2zM918 622h2v1h-2zM48 623h1v1h-1zM74 623h1v1h-1zM111 623h1v1h-1zM121 623h1v1h-1zM128 623h1v1h-1zM143 623h1v1h-1zM153 623h1v1h-1zM215 623h1v1h-1zM229 623h2v1h-2zM239 623h1v1h-1zM248 623h1v1h-1zM273 623h1v1h-1zM293 623h2v1h-2zM316 623h1v1h-1zM354 623h1v1h-1zM401 623h1v1h-1zM403 623h2v1h-2zM434 623h2v1h-2zM441 623h1v1h-1zM445 623h3v1h-3zM457 623h1v1h-1zM461 623h6v1h-6zM605 623h1v1h-1zM610 623h2v1h-2zM621 623h1v1h-1zM920 623h2v1h-2zM47 624h1v1h-1zM75 624h2v1h-2zM111 624h1v1h-1zM122 624h1v1h-1zM128 624h1v1h-1zM144 624h1v1h-1zM152 624h1v1h-1zM216 624h1v1h-1zM226 624h3v1h-3zM231 624h1v1h-1zM238 624h1v1h-1zM248 624h1v1h-1zM273 624h1v1h-1zM317 624h1v1h-1zM346 624h3v1h-3zM352 624h2v1h-2zM402 624h1v1h-1zM442 624h3v1h-3zM458 624h3v1h-3zM467 624h2v1h-2zM605 624h1v1h-1zM612 624h2v1h-2zM620 624h1v1h-1zM922 624h2v1h-2zM47 625h1v1h-1zM77 625h1v1h-1zM110 625h1v1h-1zM123 625h1v1h-1zM127 625h1v1h-1zM145 625h1v1h-1zM152 625h1v1h-1zM217 625h1v1h-1zM224 625h2v1h-2zM232 625h1v1h-1zM237 625h1v1h-1zM249 625h1v1h-1zM273 625h1v1h-1zM317 625h1v1h-1zM345 625h1v1h-1zM349 625h3v1h-3zM469 625h1v1h-1zM604 625h1v1h-1zM614 625h3v1h-3zM619 625h1v1h-1zM924 625h2v1h-2zM46 626h1v1h-1zM78 626h2v1h-2zM110 626h1v1h-1zM124 626h1v1h-1zM127 626h1v1h-1zM145 626h1v1h-1zM151 626h1v1h-1zM218 626h6v1h-6zM232 626h1v1h-1zM236 626h1v1h-1zM249 626h1v1h-1zM272 626h1v1h-1zM318 626h1v1h-1zM345 626h1v1h-1zM470 626h1v1h-1zM578 626h1v1h-1zM604 626h1v1h-1zM617 626h2v1h-2zM926 626h1v1h-1zM44 627h2v1h-2zM80 627h2v1h-2zM109 627h1v1h-1zM125 627h2v1h-2zM146 627h3v1h-3zM151 627h1v1h-1zM233 627h1v1h-1zM235 627h1v1h-1zM250 627h1v1h-1zM253 627h7v1h-7zM272 627h1v1h-1zM319 627h1v1h-1zM344 627h1v1h-1zM471 627h1v1h-1zM577 627h1v1h-1zM579 627h2v1h-2zM603 627h1v1h-1zM42 628h2v1h-2zM82 628h2v1h-2zM90 628h6v1h-6zM102 628h2v1h-2zM108 628h1v1h-1zM126 628h1v1h-1zM149 628h2v1h-2zM234 628h1v1h-1zM250 628h3v1h-3zM260 628h2v1h-2zM272 628h1v1h-1zM320 628h1v1h-1zM344 628h1v1h-1zM472 628h1v1h-1zM577 628h1v1h-1zM581 628h1v1h-1zM585 628h8v1h-8zM603 628h1v1h-1zM41 629h1v1h-1zM84 629h2v1h-2zM88 629h2v1h-2zM96 629h2v1h-2zM100 629h2v1h-2zM104 629h2v1h-2zM107 629h1v1h-1zM262 629h2v1h-2zM271 629h1v1h-1zM320 629h1v1h-1zM343 629h1v1h-1zM473 629h1v1h-1zM576 629h1v1h-1zM582 629h3v1h-3zM593 629h2v1h-2zM602 629h1v1h-1zM41 630h1v1h-1zM86 630h2v1h-2zM98 630h2v1h-2zM106 630h1v1h-1zM264 630h2v1h-2zM271 630h1v1h-1zM321 630h1v1h-1zM338 630h2v1h-2zM343 630h1v1h-1zM474 630h3v1h-3zM575 630h1v1h-1zM595 630h1v1h-1zM602 630h1v1h-1zM34 631h1v1h-1zM40 631h1v1h-1zM266 631h1v1h-1zM271 631h1v1h-1zM322 631h2v1h-2zM330 631h3v1h-3zM336 631h2v1h-2zM340 631h3v1h-3zM477 631h2v1h-2zM502 631h1v1h-1zM575 631h1v1h-1zM596 631h1v1h-1zM601 631h1v1h-1zM18 632h9v1h-9zM33 632h1v1h-1zM35 632h1v1h-1zM40 632h1v1h-1zM267 632h2v1h-2zM271 632h1v1h-1zM324 632h2v1h-2zM328 632h2v1h-2zM333 632h3v1h-3zM342 632h1v1h-1zM479 632h2v1h-2zM501 632h1v1h-1zM503 632h1v1h-1zM570 632h5v1h-5zM597 632h1v1h-1zM599 632h2v1h-2zM17 633h1v1h-1zM27 633h1v1h-1zM32 633h1v1h-1zM36 633h1v1h-1zM39 633h1v1h-1zM269 633h2v1h-2zM326 633h2v1h-2zM481 633h1v1h-1zM501 633h1v1h-1zM504 633h1v1h-1zM568 633h2v1h-2zM598 633h1v1h-1zM17 634h1v1h-1zM28 634h1v1h-1zM32 634h1v1h-1zM37 634h1v1h-1zM39 634h1v1h-1zM270 634h1v1h-1zM482 634h1v1h-1zM500 634h1v1h-1zM505 634h1v1h-1zM534 634h1v1h-1zM565 634h3v1h-3zM16 635h1v1h-1zM29 635h1v1h-1zM31 635h1v1h-1zM38 635h1v1h-1zM483 635h1v1h-1zM500 635h1v1h-1zM506 635h1v1h-1zM533 635h1v1h-1zM535 635h2v1h-2zM562 635h3v1h-3zM6 636h5v1h-5zM16 636h1v1h-1zM30 636h1v1h-1zM484 636h1v1h-1zM499 636h1v1h-1zM507 636h1v1h-1zM533 636h1v1h-1zM537 636h1v1h-1zM541 636h3v1h-3zM554 636h2v1h-2zM561 636h1v1h-1zM11 637h1v1h-1zM15 637h1v1h-1zM485 637h1v1h-1zM499 637h1v1h-1zM508 637h1v1h-1zM532 637h1v1h-1zM538 637h3v1h-3zM544 637h2v1h-2zM553 637h1v1h-1zM556 637h2v1h-2zM559 637h2v1h-2zM12 638h1v1h-1zM15 638h1v1h-1zM486 638h11v1h-11zM498 638h1v1h-1zM509 638h1v1h-1zM531 638h1v1h-1zM546 638h2v1h-2zM552 638h1v1h-1zM558 638h1v1h-1zM13 639h2v1h-2zM497 639h2v1h-2zM510 639h2v1h-2zM531 639h1v1h-1zM548 639h2v1h-2zM551 639h1v1h-1zM14 640h1v1h-1zM512 640h2v1h-2zM530 640h1v1h-1zM550 640h1v1h-1zM514 641h3v1h-3zM528 641h2v1h-2zM517 642h3v1h-3zM526 642h2v1h-2zM520 643h2v1h-2zM524 643h2v1h-2zM522 644h2v1h-2z" fill="#1e90ff"/>
</g>
<text x="10" y="586.3" font-size="10.2" fill="#000" textLength="68" lengthAdjust="spacingAndGlyphs" class="b">RSI(14) 41.5805</text>
<text x="1172.2" y="584.7" font-size="10.2" fill="#000" textLength="14.7" lengthAdjust="spacingAndGlyphs" class="b">100</text>
<text x="1171.2" y="604.7" font-size="10.2" fill="#000" textLength="9.5" lengthAdjust="spacingAndGlyphs" class="b">70</text>
<text x="1171" y="638.9" font-size="10.2" fill="#000" textLength="9.8" lengthAdjust="spacingAndGlyphs" class="b">30</text>
<text x="1172.2" y="657.4" font-size="10.2" fill="#000" textLength="4.9" lengthAdjust="spacingAndGlyphs" class="b">0</text>
<g shape-rendering="crispEdges">
<rect x="6" y="662" width="1" height="3" fill="#000"/>
<rect x="70" y="662" width="1" height="3" fill="#000"/>
<rect x="134" y="662" width="1" height="3" fill="#000"/>
<rect x="198" y="662" width="1" height="3" fill="#000"/>
<rect x="262" y="662" width="1" height="3" fill="#000"/>
<rect x="326" y="662" width="1" height="3" fill="#000"/>
<rect x="390" y="662" width="1" height="3" fill="#000"/>
<rect x="454" y="662" width="1" height="3" fill="#000"/>
<rect x="518" y="662" width="1" height="3" fill="#000"/>
<rect x="582" y="662" width="1" height="3" fill="#000"/>
<rect x="646" y="662" width="1" height="3" fill="#000"/>
<rect x="710" y="662" width="1" height="3" fill="#000"/>
<rect x="774" y="662" width="1" height="3" fill="#000"/>
<rect x="838" y="662" width="1" height="3" fill="#000"/>
<rect x="902" y="662" width="1" height="3" fill="#000"/>
</g>
<text x="5.3" y="673.1" font-size="9.5" fill="#000" textLength="46.4" lengthAdjust="spacingAndGlyphs" class="b">8 Dec 2020</text>
<text x="69.3" y="673.1" font-size="9.5" fill="#000" textLength="51.5" lengthAdjust="spacingAndGlyphs" class="b">28 Dec 2020</text>
<text x="133.3" y="673.1" font-size="9.5" fill="#000" textLength="49.9" lengthAdjust="spacingAndGlyphs" class="b">16 Jan 2021</text>
<text x="197.3" y="673.1" font-size="9.5" fill="#000" textLength="45.9" lengthAdjust="spacingAndGlyphs" class="b">4 Feb 2021</text>
<text x="261.3" y="673.1" font-size="9.5" fill="#000" textLength="51.0" lengthAdjust="spacingAndGlyphs" class="b">23 Feb 2021</text>
<text x="325.3" y="673.1" font-size="9.5" fill="#000" textLength="50.9" lengthAdjust="spacingAndGlyphs" class="b">13 Mar 2021</text>
<text x="389.3" y="673.1" font-size="9.5" fill="#000" textLength="43.9" lengthAdjust="spacingAndGlyphs" class="b">1 Apr 2021</text>
<text x="453.3" y="673.1" font-size="9.5" fill="#000" textLength="48.9" lengthAdjust="spacingAndGlyphs" class="b">20 Apr 2021</text>
<text x="517.3" y="673.1" font-size="9.5" fill="#000" textLength="47.4" lengthAdjust="spacingAndGlyphs" class="b">8 May 2021</text>
<text x="581.3" y="673.1" font-size="9.5" fill="#000" textLength="52.5" lengthAdjust="spacingAndGlyphs" class="b">27 May 2021</text>
<text x="645.3" y="673.1" font-size="9.5" fill="#000" textLength="49.9" lengthAdjust="spacingAndGlyphs" class="b">15 Jun 2021</text>
<text x="709.3" y="673.1" font-size="9.5" fill="#000" textLength="41.9" lengthAdjust="spacingAndGlyphs" class="b">3 Jul 2021</text>
<text x="773.3" y="673.1" font-size="9.5" fill="#000" textLength="46.9" lengthAdjust="spacingAndGlyphs" class="b">22 Jul 2021</text>
<text x="837.3" y="673.1" font-size="9.5" fill="#000" textLength="51.0" lengthAdjust="spacingAndGlyphs" class="b">10 Aug 2021</text>
<text x="901.3" y="673.1" font-size="9.5" fill="#000" textLength="51.0" lengthAdjust="spacingAndGlyphs" class="b">28 Aug 2021</text>
<g shape-rendering="crispEdges">
<rect x="0" y="682" width="1210" height="1" fill="#e4e4e4"/>
<rect x="1" y="684" width="1209" height="1" fill="#000"/>
<rect x="0" y="685" width="1210" height="1" fill="#fff"/>
<rect x="0" y="686" width="1210" height="17" fill="#f0f0f0"/>
<rect x="0" y="703" width="1210" height="2" fill="#fafafa"/>
<rect x="0" y="705" width="1210" height="2" fill="#f0f0f0"/>
<rect x="292" y="683" width="102" height="19" fill="#fff"/>
<rect x="291" y="684" width="1" height="19" fill="#000"/>
<rect x="394" y="684" width="1" height="19" fill="#000"/>
<rect x="291" y="702" width="104" height="1" fill="#000"/>
<rect x="290" y="686" width="1" height="17" fill="#fff"/>
<rect x="395" y="686" width="1" height="17" fill="#fff"/>
<rect x="99" y="687" width="1" height="14" fill="#6c6c6c"/>
<rect x="204" y="687" width="1" height="14" fill="#6c6c6c"/>
<rect x="499" y="687" width="1" height="14" fill="#6c6c6c"/>
<rect x="575" y="687" width="1" height="14" fill="#6c6c6c"/>
<rect x="643" y="687" width="1" height="14" fill="#6c6c6c"/>
<rect x="719" y="687" width="1" height="14" fill="#6c6c6c"/>
<rect x="811" y="687" width="1" height="14" fill="#6c6c6c"/>
<rect x="903" y="687" width="1" height="14" fill="#6c6c6c"/>
<rect x="1" y="685" width="1" height="18" fill="#b0b0b0"/>
<rect x="2" y="685" width="1" height="18" fill="#808080"/>
<rect x="0" y="703" width="3" height="1" fill="#808080"/>
</g>
<text x="19.5" y="698.7" font-size="11.8" fill="#787878" textLength="67.3" lengthAdjust="spacingAndGlyphs">EURUSD,H4</text>
<text x="110.4" y="698.7" font-size="11.8" fill="#787878" textLength="81.3" lengthAdjust="spacingAndGlyphs">AUDUSD,Daily</text>
<text x="213" y="698.7" font-size="11.8" fill="#787878" textLength="67" lengthAdjust="spacingAndGlyphs">USDCHF,H4</text>
<text x="405.5" y="698.7" font-size="11.8" fill="#787878" textLength="82.8" lengthAdjust="spacingAndGlyphs">USDCNH,Daily</text>
<text x="510.6" y="698.7" font-size="11.8" fill="#787878" textLength="52.1" lengthAdjust="spacingAndGlyphs">UKOil,H1</text>
<text x="585" y="698.7" font-size="11.8" fill="#787878" textLength="46" lengthAdjust="spacingAndGlyphs">DJ30,H1</text>
<text x="655.4" y="698.7" font-size="11.8" fill="#787878" textLength="51.5" lengthAdjust="spacingAndGlyphs">USDX,H1</text>
<text x="730" y="698.7" font-size="11.8" fill="#787878" textLength="69" lengthAdjust="spacingAndGlyphs">XAUUSD,H4</text>
<text x="823.3" y="698.7" font-size="11.8" fill="#787878" textLength="67.5" lengthAdjust="spacingAndGlyphs">GBPUSD,H1</text>
<text x="302.5" y="698.5" font-size="11.8" fill="#000" textLength="80.3" lengthAdjust="spacingAndGlyphs">USDCAD,Daily</text>
<path d="M1187 689.5 L1187 696.5 L1183.5 693 Z" fill="#808080"/>
<path d="M1203 689.5 L1203 696.5 L1206.5 693 Z" fill="#808080"/>
<text x="-2.5" y="13.6" font-size="10.2" fill="#404040" textLength="9.8" lengthAdjust="spacingAndGlyphs">15</text>
<text x="17.9" y="13.6" font-size="10.2" fill="#404040" textLength="17.3" lengthAdjust="spacingAndGlyphs">M30</text>
<text x="48.5" y="13.6" font-size="10.2" fill="#404040" textLength="12.0" lengthAdjust="spacingAndGlyphs">H1</text>
<text x="75.5" y="13.6" font-size="10.2" fill="#404040" textLength="13.0" lengthAdjust="spacingAndGlyphs">H4</text>
<text x="104.5" y="13.6" font-size="10.2" fill="#404040" textLength="12.0" lengthAdjust="spacingAndGlyphs">D1</text>
<text x="132.5" y="13.6" font-size="10.2" fill="#404040" textLength="14.0" lengthAdjust="spacingAndGlyphs">W1</text>
<text x="158.5" y="13.6" font-size="10.2" fill="#404040" textLength="15.0" lengthAdjust="spacingAndGlyphs">MN</text>
</svg>
</body></html>
